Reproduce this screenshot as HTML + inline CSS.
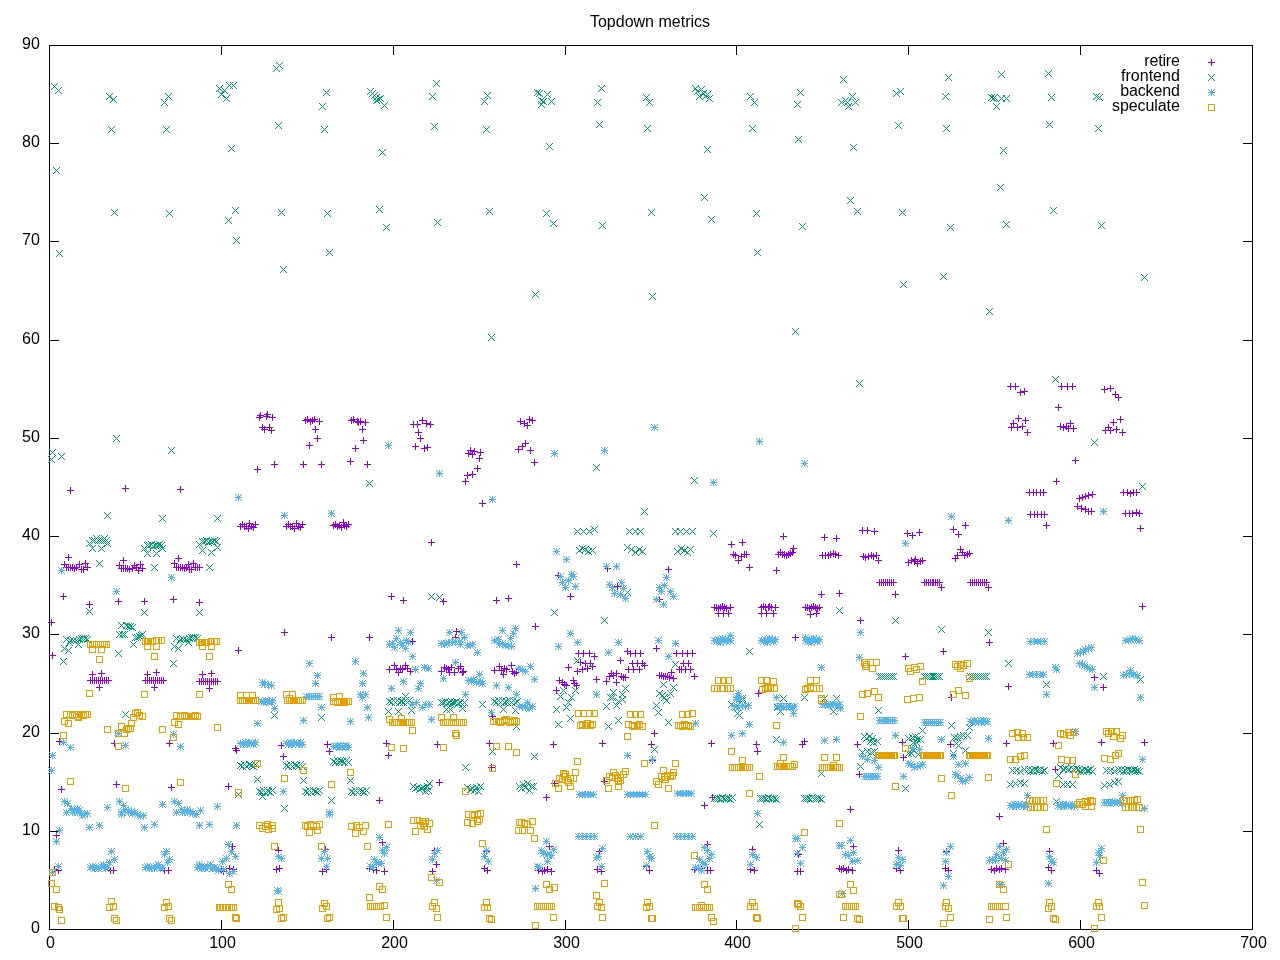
<!DOCTYPE html>
<html lang="en"><head><meta charset="utf-8"><title>Topdown metrics</title>
<style>html,body{margin:0;padding:0;background:#fff}body{width:1280px;height:960px;overflow:hidden}svg{display:block}text{font-family:"Liberation Sans",sans-serif;font-size:16px;fill:#000}</style></head><body>
<svg width="1280" height="960" viewBox="0 0 1280 960">
<rect width="1280" height="960" fill="#fff"/>
<path d="M49.5 929.5v-9.5M49.5 45.5v9.5M221.5 929.5v-9.5M221.5 45.5v9.5M393.5 929.5v-9.5M393.5 45.5v9.5M565.5 929.5v-9.5M565.5 45.5v9.5M736.5 929.5v-9.5M736.5 45.5v9.5M908.5 929.5v-9.5M908.5 45.5v9.5M1080.5 929.5v-9.5M1080.5 45.5v9.5M1252.5 929.5v-9.5M1252.5 45.5v9.5M49.5 929.5h9.5M1252.5 929.5h-9.5M49.5 831.5h9.5M1252.5 831.5h-9.5M49.5 733.5h9.5M1252.5 733.5h-9.5M49.5 634.5h9.5M1252.5 634.5h-9.5M49.5 536.5h9.5M1252.5 536.5h-9.5M49.5 438.5h9.5M1252.5 438.5h-9.5M49.5 340.5h9.5M1252.5 340.5h-9.5M49.5 241.5h9.5M1252.5 241.5h-9.5M49.5 143.5h9.5M1252.5 143.5h-9.5M49.5 45.5h9.5M1252.5 45.5h-9.5" stroke="#000" stroke-width="1" fill="none"/>
<rect x="49.5" y="45.5" width="1203.0" height="884.0" fill="none" stroke="#000" stroke-width="1"/>
<g text-anchor="end">
<text x="39.8" y="933.0">0</text>
<text x="39.8" y="835.0">10</text>
<text x="39.8" y="737.0">20</text>
<text x="39.8" y="638.0">30</text>
<text x="39.8" y="540.0">40</text>
<text x="39.8" y="442.0">50</text>
<text x="39.8" y="344.0">60</text>
<text x="39.8" y="245.0">70</text>
<text x="39.8" y="147.0">80</text>
<text x="39.8" y="49.0">90</text>
</g><g text-anchor="middle">
<text x="50.5" y="947.8">0</text>
<text x="222.5" y="947.8">100</text>
<text x="394.5" y="947.8">200</text>
<text x="566.5" y="947.8">300</text>
<text x="737.5" y="947.8">400</text>
<text x="909.5" y="947.8">500</text>
<text x="1081.5" y="947.8">600</text>
<text x="1253.5" y="947.8">700</text>
<text x="650" y="27">Topdown metrics</text>
</g>
<g text-anchor="end">
<text x="1179.8" y="66.0" textLength="35.5" lengthAdjust="spacing">retire</text>
<text x="1179.8" y="81.0" textLength="58.7" lengthAdjust="spacing">frontend</text>
<text x="1179.8" y="96.0" textLength="59.55" lengthAdjust="spacing">backend</text>
<text x="1179.8" y="111.0" textLength="67.7" lengthAdjust="spacing">speculate</text>
</g>
<path d="M1208 62.5h7M1211.5 59v7M357 421.5h7M360.5 418v7M362 422.5h7M365.5 419v7M359 429.5h7M362.5 426v7M360 440.5h7M363.5 437v7M364 464.5h7M367.5 461v7M410 424.5h7M413.5 421v7M414 424.5h7M417.5 421v7M419 420.5h7M422.5 417v7M423 423.5h7M426.5 420v7M427 424.5h7M430.5 421v7M415 432.5h7M418.5 429v7M417 438.5h7M420.5 435v7M412 446.5h7M415.5 443v7M421 448.5h7M424.5 445v7M424 447.5h7M427.5 444v7M465 453.5h7M468.5 450v7M467 450.5h7M470.5 447v7M471 451.5h7M474.5 448v7M469 454.5h7M472.5 451v7M477 452.5h7M480.5 449v7M476 458.5h7M479.5 455v7M474 468.5h7M477.5 465v7M469 474.5h7M472.5 471v7M464 475.5h7M467.5 472v7M462 481.5h7M465.5 478v7M517 421.5h7M520.5 418v7M521 423.5h7M524.5 420v7M526 419.5h7M529.5 416v7M529 420.5h7M532.5 417v7M524 425.5h7M527.5 422v7M522 443.5h7M525.5 440v7M519 446.5h7M522.5 443v7M515 449.5h7M518.5 446v7M527 450.5h7M530.5 447v7M531 462.5h7M534.5 459v7M1007 386.5h7M1010.5 383v7M1012 386.5h7M1015.5 383v7M1017 392.5h7M1020.5 389v7M1021 391.5h7M1024.5 388v7M1015 418.5h7M1018.5 415v7M1022 420.5h7M1025.5 417v7M1010 423.5h7M1013.5 420v7M1008 427.5h7M1011.5 424v7M1014 427.5h7M1017.5 424v7M1019 426.5h7M1022.5 423v7M1024 432.5h7M1027.5 429v7M1058 386.5h7M1061.5 383v7M1064 386.5h7M1067.5 383v7M1069 386.5h7M1072.5 383v7M1055 407.5h7M1058.5 404v7M1057 426.5h7M1060.5 423v7M1060 427.5h7M1063.5 424v7M1063 426.5h7M1066.5 423v7M1067 423.5h7M1070.5 420v7M1065 428.5h7M1068.5 425v7M1070 428.5h7M1073.5 425v7M1072 460.5h7M1075.5 457v7M1053 481.5h7M1056.5 478v7M1101 389.5h7M1104.5 386v7M1107 388.5h7M1110.5 385v7M1112 394.5h7M1115.5 391v7M1115 397.5h7M1118.5 394v7M1117 419.5h7M1120.5 416v7M1110 422.5h7M1113.5 419v7M1105 427.5h7M1108.5 424v7M1102 430.5h7M1105.5 427v7M1107 430.5h7M1110.5 427v7M1113 429.5h7M1116.5 426v7M1119 432.5h7M1122.5 429v7M256 417.5h7M259.5 414v7M257 415.5h7M260.5 412v7M263 416.5h7M266.5 413v7M264 414.5h7M267.5 411v7M269 417.5h7M272.5 414v7M259 427.5h7M262.5 424v7M261 429.5h7M264.5 426v7M266 427.5h7M269.5 424v7M268 430.5h7M271.5 427v7M254 469.5h7M257.5 466v7M271 464.5h7M274.5 461v7M302 420.5h7M305.5 417v7M304 419.5h7M307.5 416v7M307 421.5h7M310.5 418v7M309 420.5h7M312.5 417v7M311 419.5h7M314.5 416v7M316 421.5h7M319.5 418v7M312 429.5h7M315.5 426v7M314 438.5h7M317.5 435v7M306 445.5h7M309.5 442v7M300 464.5h7M303.5 461v7M318 464.5h7M321.5 461v7M348 420.5h7M351.5 417v7M350 419.5h7M353.5 416v7M354 421.5h7M357.5 418v7M355 422.5h7M358.5 419v7M352 448.5h7M355.5 445v7M347 461.5h7M350.5 458v7M67 490.5h7M70.5 487v7M122 488.5h7M125.5 485v7M177 489.5h7M180.5 486v7M63 567.5h7M66.5 564v7M65 567.5h7M68.5 564v7M67 567.5h7M70.5 564v7M69 567.5h7M72.5 564v7M71 568.5h7M74.5 565v7M73 567.5h7M76.5 564v7M76 564.5h7M79.5 561v7M78 569.5h7M81.5 566v7M80 569.5h7M83.5 566v7M82 563.5h7M85.5 560v7M84 567.5h7M87.5 564v7M65 557.5h7M68.5 554v7M61 564.5h7M64.5 561v7M118 568.5h7M121.5 565v7M120 568.5h7M123.5 565v7M122 568.5h7M125.5 565v7M124 568.5h7M127.5 565v7M126 569.5h7M129.5 566v7M129 568.5h7M132.5 565v7M131 565.5h7M134.5 562v7M133 567.5h7M136.5 564v7M135 570.5h7M138.5 567v7M137 564.5h7M140.5 561v7M139 568.5h7M142.5 565v7M120 560.5h7M123.5 557v7M116 565.5h7M119.5 562v7M173 567.5h7M176.5 564v7M175 567.5h7M178.5 564v7M177 567.5h7M180.5 564v7M179 567.5h7M182.5 564v7M181 568.5h7M184.5 565v7M183 567.5h7M186.5 564v7M185 564.5h7M188.5 561v7M186 569.5h7M189.5 566v7M188 569.5h7M191.5 566v7M190 563.5h7M193.5 560v7M192 567.5h7M195.5 564v7M194 567.5h7M197.5 564v7M196 567.5h7M199.5 564v7M175 558.5h7M178.5 555v7M171 563.5h7M174.5 560v7M237 526.5h7M240.5 523v7M239 524.5h7M242.5 521v7M241 526.5h7M244.5 523v7M243 526.5h7M246.5 523v7M245 528.5h7M248.5 525v7M246 523.5h7M249.5 520v7M248 526.5h7M251.5 523v7M250 527.5h7M253.5 524v7M252 524.5h7M255.5 521v7M283 526.5h7M286.5 523v7M285 524.5h7M288.5 521v7M287 526.5h7M290.5 523v7M289 526.5h7M292.5 523v7M291 528.5h7M294.5 525v7M293 523.5h7M296.5 520v7M295 526.5h7M298.5 523v7M297 527.5h7M300.5 524v7M299 524.5h7M302.5 521v7M330 525.5h7M333.5 522v7M332 524.5h7M335.5 521v7M334 526.5h7M337.5 523v7M336 525.5h7M339.5 522v7M338 527.5h7M341.5 524v7M340 522.5h7M343.5 519v7M341 525.5h7M344.5 522v7M343 526.5h7M346.5 523v7M345 524.5h7M348.5 521v7M428 542.5h7M431.5 539v7M479 503.5h7M482.5 500v7M513 564.5h7M516.5 561v7M665 569.5h7M668.5 566v7M728 544.5h7M731.5 541v7M739 542.5h7M742.5 539v7M746 567.5h7M749.5 564v7M773 570.5h7M776.5 567v7M780 536.5h7M783.5 533v7M821 537.5h7M824.5 534v7M833 538.5h7M836.5 535v7M604 568.5h7M607.5 565v7M555 575.5h7M558.5 572v7M730 554.5h7M733.5 551v7M732 555.5h7M735.5 552v7M735 560.5h7M738.5 557v7M738 556.5h7M741.5 553v7M741 554.5h7M744.5 551v7M743 554.5h7M746.5 551v7M775 554.5h7M778.5 551v7M777 552.5h7M780.5 549v7M779 554.5h7M782.5 551v7M781 554.5h7M784.5 551v7M783 555.5h7M786.5 552v7M785 554.5h7M788.5 551v7M787 553.5h7M790.5 550v7M789 552.5h7M792.5 549v7M790 548.5h7M793.5 545v7M819 555.5h7M822.5 552v7M822 555.5h7M825.5 552v7M825 555.5h7M828.5 552v7M827 554.5h7M830.5 551v7M830 553.5h7M833.5 550v7M832 554.5h7M835.5 551v7M835 555.5h7M838.5 552v7M1043 525.5h7M1046.5 522v7M1137 528.5h7M1140.5 525v7M859 530.5h7M862.5 527v7M864 530.5h7M867.5 527v7M871 531.5h7M874.5 528v7M860 556.5h7M863.5 553v7M862 557.5h7M865.5 554v7M865 556.5h7M868.5 553v7M868 555.5h7M871.5 552v7M870 556.5h7M873.5 553v7M873 555.5h7M876.5 552v7M875 560.5h7M878.5 557v7M904 533.5h7M907.5 530v7M909 535.5h7M912.5 532v7M916 532.5h7M919.5 529v7M905 562.5h7M908.5 559v7M908 560.5h7M911.5 557v7M911 561.5h7M914.5 558v7M912 559.5h7M915.5 556v7M914 563.5h7M917.5 560v7M917 561.5h7M920.5 558v7M919 560.5h7M922.5 557v7M950 529.5h7M953.5 526v7M955 534.5h7M958.5 531v7M962 525.5h7M965.5 522v7M952 558.5h7M955.5 555v7M954 555.5h7M957.5 552v7M957 549.5h7M960.5 546v7M959 552.5h7M962.5 549v7M961 555.5h7M964.5 552v7M964 554.5h7M967.5 551v7M966 553.5h7M969.5 550v7M1026 492.5h7M1029.5 489v7M1030 492.5h7M1033.5 489v7M1033 492.5h7M1036.5 489v7M1037 492.5h7M1040.5 489v7M1040 492.5h7M1043.5 489v7M1027 514.5h7M1030.5 511v7M1031 514.5h7M1034.5 511v7M1034 514.5h7M1037.5 511v7M1038 514.5h7M1041.5 511v7M1041 514.5h7M1044.5 511v7M1076 498.5h7M1079.5 495v7M1079 497.5h7M1082.5 494v7M1082 496.5h7M1085.5 493v7M1085 495.5h7M1088.5 492v7M1089 494.5h7M1092.5 491v7M1074 506.5h7M1077.5 503v7M1078 508.5h7M1081.5 505v7M1082 509.5h7M1085.5 506v7M1085 511.5h7M1088.5 508v7M1088 511.5h7M1091.5 508v7M1120 492.5h7M1123.5 489v7M1124 492.5h7M1127.5 489v7M1127 493.5h7M1130.5 490v7M1130 492.5h7M1133.5 489v7M1133 492.5h7M1136.5 489v7M1122 513.5h7M1125.5 510v7M1126 513.5h7M1129.5 510v7M1129 513.5h7M1132.5 510v7M1133 512.5h7M1136.5 509v7M1136 513.5h7M1139.5 510v7M60 596.5h7M63.5 593v7M86 604.5h7M89.5 601v7M115 601.5h7M118.5 598v7M141 601.5h7M144.5 598v7M170 599.5h7M173.5 596v7M196 602.5h7M199.5 599v7M48 622.5h7M51.5 619v7M49 655.5h7M52.5 652v7M87 680.5h7M90.5 677v7M89 680.5h7M92.5 677v7M91 680.5h7M94.5 677v7M93 680.5h7M96.5 677v7M95 680.5h7M98.5 677v7M97 680.5h7M100.5 677v7M99 680.5h7M102.5 677v7M101 680.5h7M104.5 677v7M103 680.5h7M106.5 677v7M105 680.5h7M108.5 677v7M89 674.5h7M92.5 671v7M98 673.5h7M101.5 670v7M96 687.5h7M99.5 684v7M142 680.5h7M145.5 677v7M144 680.5h7M147.5 677v7M146 680.5h7M149.5 677v7M148 680.5h7M151.5 677v7M150 680.5h7M153.5 677v7M152 680.5h7M155.5 677v7M154 680.5h7M157.5 677v7M156 680.5h7M159.5 677v7M158 680.5h7M161.5 677v7M160 680.5h7M163.5 677v7M144 674.5h7M147.5 671v7M153 672.5h7M156.5 669v7M151 687.5h7M154.5 684v7M235 650.5h7M238.5 647v7M281 632.5h7M284.5 629v7M328 637.5h7M331.5 634v7M196 681.5h7M199.5 678v7M198 681.5h7M201.5 678v7M200 681.5h7M203.5 678v7M202 681.5h7M205.5 678v7M204 681.5h7M207.5 678v7M206 681.5h7M209.5 678v7M208 681.5h7M211.5 678v7M210 681.5h7M213.5 678v7M212 681.5h7M215.5 678v7M214 681.5h7M217.5 678v7M199 674.5h7M202.5 671v7M208 673.5h7M211.5 670v7M206 688.5h7M209.5 685v7M388 596.5h7M391.5 593v7M400 600.5h7M403.5 597v7M440 601.5h7M443.5 598v7M493 600.5h7M496.5 597v7M505 598.5h7M508.5 595v7M366 637.5h7M369.5 634v7M409 641.5h7M412.5 638v7M453 631.5h7M456.5 628v7M452 637.5h7M455.5 634v7M386 669.5h7M389.5 666v7M391 665.5h7M394.5 662v7M393 669.5h7M396.5 666v7M395 672.5h7M398.5 669v7M397 668.5h7M400.5 665v7M399 669.5h7M402.5 666v7M402 665.5h7M405.5 662v7M404 668.5h7M407.5 665v7M407 671.5h7M410.5 668v7M438 671.5h7M441.5 668v7M441 667.5h7M444.5 664v7M443 668.5h7M446.5 665v7M445 669.5h7M448.5 666v7M446 672.5h7M449.5 669v7M448 667.5h7M451.5 664v7M451 672.5h7M454.5 669v7M455 668.5h7M458.5 665v7M457 666.5h7M460.5 663v7M459 672.5h7M462.5 669v7M460 671.5h7M463.5 668v7M491 670.5h7M494.5 667v7M496 666.5h7M499.5 663v7M498 670.5h7M501.5 667v7M500 674.5h7M503.5 671v7M501 668.5h7M504.5 665v7M503 669.5h7M506.5 666v7M508 665.5h7M511.5 662v7M509 671.5h7M512.5 668v7M511 673.5h7M514.5 670v7M513 672.5h7M516.5 669v7M567 596.5h7M570.5 593v7M532 626.5h7M535.5 623v7M614 586.5h7M617.5 583v7M656 599.5h7M659.5 596v7M653 648.5h7M656.5 645v7M617 660.5h7M620.5 657v7M565 667.5h7M568.5 664v7M593 679.5h7M596.5 676v7M553 690.5h7M556.5 687v7M575 653.5h7M578.5 650v7M580 653.5h7M583.5 650v7M586 653.5h7M589.5 650v7M591 656.5h7M594.5 653v7M577 662.5h7M580.5 659v7M582 663.5h7M585.5 660v7M587 663.5h7M590.5 660v7M589 666.5h7M592.5 663v7M584 668.5h7M587.5 665v7M579 669.5h7M582.5 666v7M574 671.5h7M577.5 668v7M556 680.5h7M559.5 677v7M559 682.5h7M562.5 679v7M561 684.5h7M564.5 681v7M563 685.5h7M566.5 682v7M570 680.5h7M573.5 677v7M571 683.5h7M574.5 680v7M573 685.5h7M576.5 682v7M624 651.5h7M627.5 648v7M627 653.5h7M630.5 650v7M632 653.5h7M635.5 650v7M637 653.5h7M640.5 650v7M629 663.5h7M632.5 660v7M634 663.5h7M637.5 660v7M639 663.5h7M642.5 660v7M641 665.5h7M644.5 662v7M625 669.5h7M628.5 666v7M630 669.5h7M633.5 666v7M636 669.5h7M639.5 666v7M606 676.5h7M609.5 673v7M608 673.5h7M611.5 670v7M610 675.5h7M613.5 672v7M613 673.5h7M616.5 670v7M618 676.5h7M621.5 673v7M620 677.5h7M623.5 674v7M622 677.5h7M625.5 674v7M603 681.5h7M606.5 678v7M613 682.5h7M616.5 679v7M673 653.5h7M676.5 650v7M656 675.5h7M659.5 672v7M658 675.5h7M661.5 672v7M660 676.5h7M663.5 673v7M662 676.5h7M665.5 673v7M664 676.5h7M667.5 673v7M668 672.5h7M671.5 669v7M670 678.5h7M673.5 675v7M666 677.5h7M669.5 674v7M676 669.5h7M679.5 666v7M679 653.5h7M682.5 650v7M684 653.5h7M687.5 650v7M689 653.5h7M692.5 650v7M680 663.5h7M683.5 660v7M685 663.5h7M688.5 660v7M678 669.5h7M681.5 666v7M682 669.5h7M685.5 666v7M687 669.5h7M690.5 666v7M691 676.5h7M694.5 673v7M818 594.5h7M821.5 591v7M836 593.5h7M839.5 590v7M792 637.5h7M795.5 634v7M755 693.5h7M758.5 690v7M711 607.5h7M714.5 604v7M713 607.5h7M716.5 604v7M715 608.5h7M718.5 605v7M717 607.5h7M720.5 604v7M719 606.5h7M722.5 603v7M721 607.5h7M724.5 604v7M723 608.5h7M726.5 605v7M727 607.5h7M730.5 604v7M715 613.5h7M718.5 610v7M720 613.5h7M723.5 610v7M725 613.5h7M728.5 610v7M758 607.5h7M761.5 604v7M760 606.5h7M763.5 603v7M762 607.5h7M765.5 604v7M765 607.5h7M768.5 604v7M766 606.5h7M769.5 603v7M768 607.5h7M771.5 604v7M772 607.5h7M775.5 604v7M758 613.5h7M761.5 610v7M763 613.5h7M766.5 610v7M770 613.5h7M773.5 610v7M802 607.5h7M805.5 604v7M804 607.5h7M807.5 604v7M806 608.5h7M809.5 605v7M808 607.5h7M811.5 604v7M810 606.5h7M813.5 603v7M812 607.5h7M815.5 604v7M814 608.5h7M817.5 605v7M816 607.5h7M819.5 604v7M807 614.5h7M810.5 611v7M813 613.5h7M816.5 610v7M892 594.5h7M895.5 591v7M938 587.5h7M941.5 584v7M985 587.5h7M988.5 584v7M857 620.5h7M860.5 617v7M986 642.5h7M989.5 639v7M940 651.5h7M943.5 648v7M902 656.5h7M905.5 653v7M948 697.5h7M951.5 694v7M876 582.5h7M879.5 579v7M878 582.5h7M881.5 579v7M880 582.5h7M883.5 579v7M882 582.5h7M885.5 579v7M884 582.5h7M887.5 579v7M886 582.5h7M889.5 579v7M888 582.5h7M891.5 579v7M890 582.5h7M893.5 579v7M921 582.5h7M924.5 579v7M923 582.5h7M926.5 579v7M925 582.5h7M928.5 579v7M927 582.5h7M930.5 579v7M929 582.5h7M932.5 579v7M930 582.5h7M933.5 579v7M932 582.5h7M935.5 579v7M934 582.5h7M937.5 579v7M936 582.5h7M939.5 579v7M967 582.5h7M970.5 579v7M969 582.5h7M972.5 579v7M971 582.5h7M974.5 579v7M973 582.5h7M976.5 579v7M975 582.5h7M978.5 579v7M977 582.5h7M980.5 579v7M979 582.5h7M982.5 579v7M981 582.5h7M984.5 579v7M983 582.5h7M986.5 579v7M1139 606.5h7M1142.5 603v7M1005 686.5h7M1008.5 683v7M1091 677.5h7M1094.5 674v7M1100 687.5h7M1103.5 684v7M56 741.5h7M59.5 738v7M111 743.5h7M114.5 740v7M166 743.5h7M169.5 740v7M58 789.5h7M61.5 786v7M113 784.5h7M116.5 781v7M168 787.5h7M171.5 784v7M232 748.5h7M235.5 745v7M233 750.5h7M236.5 747v7M278 745.5h7M281.5 742v7M280 756.5h7M283.5 753v7M324 744.5h7M327.5 741v7M326 751.5h7M329.5 748v7M225 786.5h7M228.5 783v7M383 743.5h7M386.5 740v7M385 755.5h7M388.5 752v7M434 744.5h7M437.5 741v7M486 743.5h7M489.5 740v7M489 716.5h7M492.5 713v7M488 767.5h7M491.5 764v7M436 782.5h7M439.5 779v7M376 800.5h7M379.5 797v7M550 744.5h7M553.5 741v7M599 743.5h7M602.5 740v7M651 733.5h7M654.5 730v7M648 744.5h7M651.5 741v7M649 760.5h7M652.5 757v7M551 783.5h7M554.5 780v7M601 781.5h7M604.5 778v7M543 797.5h7M546.5 794v7M708 743.5h7M711.5 740v7M753 744.5h7M756.5 741v7M754 751.5h7M757.5 748v7M801 741.5h7M804.5 738v7M799 744.5h7M802.5 741v7M709 797.5h7M712.5 794v7M701 805.5h7M704.5 802v7M854 744.5h7M857.5 741v7M899 742.5h7M902.5 739v7M947 744.5h7M950.5 741v7M900 757.5h7M903.5 754v7M856 774.5h7M859.5 771v7M847 809.5h7M850.5 806v7M1003 743.5h7M1006.5 740v7M1050 743.5h7M1053.5 740v7M1098 742.5h7M1101.5 739v7M1141 742.5h7M1144.5 739v7M1052 769.5h7M1055.5 766v7M53 835.5h7M56.5 832v7M51 869.5h7M54.5 866v7M55 870.5h7M58.5 867v7M107 870.5h7M110.5 867v7M110 870.5h7M113.5 867v7M161 870.5h7M164.5 867v7M165 870.5h7M168.5 867v7M229 846.5h7M232.5 843v7M218 869.5h7M221.5 866v7M220 871.5h7M223.5 868v7M226 868.5h7M229.5 865v7M230 869.5h7M233.5 866v7M275 850.5h7M278.5 847v7M273 869.5h7M276.5 866v7M276 868.5h7M279.5 865v7M322 849.5h7M325.5 846v7M319 871.5h7M322.5 868v7M323 869.5h7M326.5 866v7M379 842.5h7M382.5 839v7M366 868.5h7M369.5 865v7M370 869.5h7M373.5 866v7M373 870.5h7M376.5 867v7M381 871.5h7M384.5 868v7M431 850.5h7M434.5 847v7M433 864.5h7M436.5 861v7M429 871.5h7M432.5 868v7M483 851.5h7M486.5 848v7M481 868.5h7M484.5 865v7M484 870.5h7M487.5 867v7M546 846.5h7M549.5 843v7M535 870.5h7M538.5 867v7M539 871.5h7M542.5 868v7M541 870.5h7M544.5 867v7M544 869.5h7M547.5 866v7M548 871.5h7M551.5 868v7M596 851.5h7M599.5 848v7M594 869.5h7M597.5 866v7M598 871.5h7M601.5 868v7M646 870.5h7M649.5 867v7M643 866.5h7M646.5 863v7M704 844.5h7M707.5 841v7M691 869.5h7M694.5 866v7M704 870.5h7M707.5 867v7M707 870.5h7M710.5 867v7M698 868.5h7M701.5 865v7M749 849.5h7M752.5 846v7M747 869.5h7M750.5 866v7M751 870.5h7M754.5 867v7M795 854.5h7M798.5 851v7M794 871.5h7M797.5 868v7M797 871.5h7M800.5 868v7M836 868.5h7M839.5 865v7M996 816.5h7M999.5 813v7M850 846.5h7M853.5 843v7M838 869.5h7M841.5 866v7M840 868.5h7M843.5 865v7M843 870.5h7M846.5 867v7M845 869.5h7M848.5 866v7M849 870.5h7M852.5 867v7M895 850.5h7M898.5 847v7M893 868.5h7M896.5 865v7M897 870.5h7M900.5 867v7M943 851.5h7M946.5 848v7M942 868.5h7M945.5 865v7M945 870.5h7M948.5 867v7M988 869.5h7M991.5 866v7M991 870.5h7M994.5 867v7M993 868.5h7M996.5 865v7M996 869.5h7M999.5 866v7M1000 843.5h7M1003.5 840v7M998 868.5h7M1001.5 865v7M1002 869.5h7M1005.5 866v7M1046 851.5h7M1049.5 848v7M1045 867.5h7M1048.5 864v7M1048 870.5h7M1051.5 867v7M1093 870.5h7M1096.5 867v7M1096 873.5h7M1099.5 870v7" stroke="#9400d3" stroke-width="1" fill="none" shape-rendering="crispEdges"/>
<path d="M1208 74l7 7M1208 81l7 -7M51 83l7 7M51 90l7 -7M55 87l7 7M55 94l7 -7M106 93l7 7M106 100l7 -7M110 96l7 7M110 103l7 -7M108 126l7 7M108 133l7 -7M165 93l7 7M165 100l7 -7M161 99l7 7M161 106l7 -7M163 126l7 7M163 133l7 -7M216 85l7 7M216 92l7 -7M218 91l7 7M218 98l7 -7M221 87l7 7M221 94l7 -7M223 95l7 7M223 102l7 -7M226 82l7 7M226 89l7 -7M230 82l7 7M230 89l7 -7M228 145l7 7M228 152l7 -7M273 65l7 7M273 72l7 -7M276 62l7 7M276 69l7 -7M275 122l7 7M275 129l7 -7M323 89l7 7M323 96l7 -7M319 103l7 7M319 110l7 -7M321 126l7 7M321 133l7 -7M53 167l7 7M53 174l7 -7M111 209l7 7M111 216l7 -7M166 210l7 7M166 217l7 -7M232 207l7 7M232 214l7 -7M225 217l7 7M225 224l7 -7M233 237l7 7M233 244l7 -7M278 209l7 7M278 216l7 -7M324 210l7 7M324 217l7 -7M326 249l7 7M326 256l7 -7M367 88l7 7M367 95l7 -7M369 90l7 7M369 97l7 -7M371 92l7 7M371 99l7 -7M373 94l7 7M373 101l7 -7M375 96l7 7M375 103l7 -7M377 95l7 7M377 102l7 -7M373 97l7 7M373 104l7 -7M381 102l7 7M381 109l7 -7M379 149l7 7M379 156l7 -7M376 206l7 7M376 213l7 -7M383 224l7 7M383 231l7 -7M433 80l7 7M433 87l7 -7M429 93l7 7M429 100l7 -7M431 123l7 7M431 130l7 -7M434 219l7 7M434 226l7 -7M484 92l7 7M484 99l7 -7M481 98l7 7M481 105l7 -7M483 126l7 7M483 133l7 -7M486 208l7 7M486 215l7 -7M534 89l7 7M534 96l7 -7M536 90l7 7M536 97l7 -7M544 91l7 7M544 98l7 -7M538 97l7 7M538 104l7 -7M540 98l7 7M540 105l7 -7M548 98l7 7M548 105l7 -7M538 101l7 7M538 108l7 -7M546 143l7 7M546 150l7 -7M543 210l7 7M543 217l7 -7M550 220l7 7M550 227l7 -7M598 85l7 7M598 92l7 -7M594 99l7 7M594 106l7 -7M596 121l7 7M596 128l7 -7M599 222l7 7M599 229l7 -7M643 94l7 7M643 101l7 -7M646 99l7 7M646 106l7 -7M644 125l7 7M644 132l7 -7M648 209l7 7M648 216l7 -7M692 85l7 7M692 92l7 -7M694 88l7 7M694 95l7 -7M698 86l7 7M698 93l7 -7M696 93l7 7M696 100l7 -7M700 90l7 7M700 97l7 -7M702 93l7 7M702 100l7 -7M704 91l7 7M704 98l7 -7M706 95l7 7M706 102l7 -7M704 146l7 7M704 153l7 -7M701 194l7 7M701 201l7 -7M708 216l7 7M708 223l7 -7M747 93l7 7M747 100l7 -7M751 99l7 7M751 106l7 -7M749 125l7 7M749 132l7 -7M753 210l7 7M753 217l7 -7M754 249l7 7M754 256l7 -7M797 89l7 7M797 96l7 -7M794 101l7 7M794 108l7 -7M795 136l7 7M795 143l7 -7M799 223l7 7M799 230l7 -7M840 76l7 7M840 83l7 -7M838 99l7 7M838 106l7 -7M842 97l7 7M842 104l7 -7M844 99l7 7M844 106l7 -7M849 93l7 7M849 100l7 -7M852 99l7 7M852 106l7 -7M845 103l7 7M845 110l7 -7M850 144l7 7M850 151l7 -7M847 197l7 7M847 204l7 -7M854 208l7 7M854 215l7 -7M893 90l7 7M893 97l7 -7M897 88l7 7M897 95l7 -7M895 122l7 7M895 129l7 -7M899 209l7 7M899 216l7 -7M945 74l7 7M945 81l7 -7M942 93l7 7M942 100l7 -7M943 125l7 7M943 132l7 -7M947 224l7 7M947 231l7 -7M940 273l7 7M940 280l7 -7M998 71l7 7M998 78l7 -7M988 94l7 7M988 101l7 -7M990 95l7 7M990 102l7 -7M991 94l7 7M991 101l7 -7M998 95l7 7M998 102l7 -7M1003 95l7 7M1003 102l7 -7M993 103l7 7M993 110l7 -7M1000 147l7 7M1000 154l7 -7M997 184l7 7M997 191l7 -7M1003 221l7 7M1003 228l7 -7M1045 70l7 7M1045 77l7 -7M1048 94l7 7M1048 101l7 -7M1046 121l7 7M1046 128l7 -7M1050 207l7 7M1050 214l7 -7M1093 93l7 7M1093 100l7 -7M1096 94l7 7M1096 101l7 -7M1095 125l7 7M1095 132l7 -7M1098 222l7 7M1098 229l7 -7M1141 274l7 7M1141 281l7 -7M56 250l7 7M56 257l7 -7M113 435l7 7M113 442l7 -7M168 447l7 7M168 454l7 -7M49 449l7 7M49 456l7 -7M48 456l7 7M48 463l7 -7M58 453l7 7M58 460l7 -7M280 266l7 7M280 273l7 -7M532 291l7 7M532 298l7 -7M649 293l7 7M649 300l7 -7M488 334l7 7M488 341l7 -7M593 464l7 7M593 471l7 -7M366 480l7 7M366 487l7 -7M792 328l7 7M792 335l7 -7M856 380l7 7M856 387l7 -7M900 281l7 7M900 288l7 -7M986 308l7 7M986 315l7 -7M691 477l7 7M691 484l7 -7M1052 376l7 7M1052 383l7 -7M1091 439l7 7M1091 446l7 -7M1139 483l7 7M1139 490l7 -7M104 512l7 7M104 519l7 -7M159 515l7 7M159 522l7 -7M96 560l7 7M96 567l7 -7M151 564l7 7M151 571l7 -7M89 537l7 7M89 544l7 -7M91 537l7 7M91 544l7 -7M93 535l7 7M93 542l7 -7M95 537l7 7M95 544l7 -7M97 537l7 7M97 544l7 -7M99 537l7 7M99 544l7 -7M101 535l7 7M101 542l7 -7M103 537l7 7M103 544l7 -7M86 540l7 7M86 547l7 -7M89 545l7 7M89 552l7 -7M98 545l7 7M98 552l7 -7M104 540l7 7M104 547l7 -7M144 542l7 7M144 549l7 -7M146 542l7 7M146 549l7 -7M148 541l7 7M148 548l7 -7M150 543l7 7M150 550l7 -7M152 542l7 7M152 549l7 -7M154 542l7 7M154 549l7 -7M156 541l7 7M156 548l7 -7M158 542l7 7M158 549l7 -7M141 545l7 7M141 552l7 -7M144 550l7 7M144 557l7 -7M153 550l7 7M153 557l7 -7M159 545l7 7M159 552l7 -7M214 515l7 7M214 522l7 -7M206 564l7 7M206 571l7 -7M199 538l7 7M199 545l7 -7M201 538l7 7M201 545l7 -7M203 537l7 7M203 544l7 -7M205 539l7 7M205 546l7 -7M207 538l7 7M207 545l7 -7M209 538l7 7M209 545l7 -7M211 537l7 7M211 544l7 -7M213 538l7 7M213 545l7 -7M196 541l7 7M196 548l7 -7M199 547l7 7M199 554l7 -7M208 549l7 7M208 556l7 -7M214 544l7 7M214 551l7 -7M641 508l7 7M641 515l7 -7M710 530l7 7M710 537l7 -7M591 526l7 7M591 533l7 -7M574 528l7 7M574 535l7 -7M580 528l7 7M580 535l7 -7M586 528l7 7M586 535l7 -7M626 528l7 7M626 535l7 -7M632 528l7 7M632 535l7 -7M637 528l7 7M637 535l7 -7M672 528l7 7M672 535l7 -7M677 528l7 7M677 535l7 -7M683 528l7 7M683 535l7 -7M689 528l7 7M689 535l7 -7M576 547l7 7M576 554l7 -7M579 545l7 7M579 552l7 -7M582 546l7 7M582 553l7 -7M585 548l7 7M585 555l7 -7M589 547l7 7M589 554l7 -7M624 544l7 7M624 551l7 -7M628 546l7 7M628 553l7 -7M632 549l7 7M632 556l7 -7M636 546l7 7M636 553l7 -7M639 548l7 7M639 555l7 -7M674 548l7 7M674 555l7 -7M678 545l7 7M678 552l7 -7M681 547l7 7M681 554l7 -7M684 549l7 7M684 556l7 -7M687 546l7 7M687 553l7 -7M86 608l7 7M86 615l7 -7M141 609l7 7M141 616l7 -7M196 609l7 7M196 616l7 -7M60 658l7 7M60 665l7 -7M115 650l7 7M115 657l7 -7M170 660l7 7M170 667l7 -7M63 636l7 7M63 643l7 -7M67 637l7 7M67 644l7 -7M70 637l7 7M70 644l7 -7M73 637l7 7M73 644l7 -7M76 636l7 7M76 643l7 -7M78 635l7 7M78 642l7 -7M80 635l7 7M80 642l7 -7M82 635l7 7M82 642l7 -7M84 636l7 7M84 643l7 -7M61 645l7 7M61 652l7 -7M65 647l7 7M65 654l7 -7M75 641l7 7M75 648l7 -7M66 639l7 7M66 646l7 -7M118 622l7 7M118 629l7 -7M123 622l7 7M123 629l7 -7M125 623l7 7M125 630l7 -7M127 623l7 7M127 630l7 -7M129 624l7 7M129 631l7 -7M116 631l7 7M116 638l7 -7M119 631l7 7M119 638l7 -7M121 631l7 7M121 638l7 -7M132 634l7 7M132 641l7 -7M134 634l7 7M134 641l7 -7M136 633l7 7M136 640l7 -7M138 632l7 7M138 639l7 -7M139 631l7 7M139 638l7 -7M130 641l7 7M130 648l7 -7M173 635l7 7M173 642l7 -7M177 636l7 7M177 643l7 -7M180 636l7 7M180 643l7 -7M183 636l7 7M183 643l7 -7M186 635l7 7M186 642l7 -7M188 634l7 7M188 641l7 -7M190 634l7 7M190 641l7 -7M192 634l7 7M192 641l7 -7M194 635l7 7M194 642l7 -7M171 643l7 7M171 650l7 -7M175 645l7 7M175 652l7 -7M185 639l7 7M185 646l7 -7M176 638l7 7M176 645l7 -7M428 593l7 7M428 600l7 -7M436 594l7 7M436 601l7 -7M551 609l7 7M551 616l7 -7M601 617l7 7M601 624l7 -7M624 589l7 7M624 596l7 -7M574 657l7 7M574 664l7 -7M672 661l7 7M672 668l7 -7M560 687l7 7M560 694l7 -7M572 687l7 7M572 694l7 -7M557 693l7 7M557 700l7 -7M568 694l7 7M568 701l7 -7M610 689l7 7M610 696l7 -7M622 685l7 7M622 692l7 -7M607 694l7 7M607 701l7 -7M619 691l7 7M619 698l7 -7M660 681l7 7M660 688l7 -7M670 684l7 7M670 691l7 -7M656 690l7 7M656 697l7 -7M667 690l7 7M667 697l7 -7M661 694l7 7M661 701l7 -7M746 648l7 7M746 655l7 -7M836 607l7 7M836 614l7 -7M739 695l7 7M739 702l7 -7M780 695l7 7M780 702l7 -7M801 694l7 7M801 701l7 -7M821 695l7 7M821 702l7 -7M833 695l7 7M833 702l7 -7M892 617l7 7M892 624l7 -7M938 626l7 7M938 633l7 -7M985 629l7 7M985 636l7 -7M876 673l7 7M876 680l7 -7M878 673l7 7M878 680l7 -7M880 673l7 7M880 680l7 -7M882 673l7 7M882 680l7 -7M884 673l7 7M884 680l7 -7M886 673l7 7M886 680l7 -7M888 673l7 7M888 680l7 -7M890 673l7 7M890 680l7 -7M921 673l7 7M921 680l7 -7M923 673l7 7M923 680l7 -7M925 673l7 7M925 680l7 -7M927 673l7 7M927 680l7 -7M929 673l7 7M929 680l7 -7M930 673l7 7M930 680l7 -7M932 673l7 7M932 680l7 -7M934 673l7 7M934 680l7 -7M936 673l7 7M936 680l7 -7M967 673l7 7M967 680l7 -7M969 673l7 7M969 680l7 -7M971 673l7 7M971 680l7 -7M973 673l7 7M973 680l7 -7M975 673l7 7M975 680l7 -7M977 673l7 7M977 680l7 -7M979 673l7 7M979 680l7 -7M981 673l7 7M981 680l7 -7M983 673l7 7M983 680l7 -7M1005 660l7 7M1005 667l7 -7M1043 681l7 7M1043 688l7 -7M1100 673l7 7M1100 680l7 -7M1137 676l7 7M1137 683l7 -7M122 711l7 7M122 718l7 -7M237 762l7 7M237 769l7 -7M239 763l7 7M239 770l7 -7M241 761l7 7M241 768l7 -7M243 763l7 7M243 770l7 -7M246 761l7 7M246 768l7 -7M248 762l7 7M248 769l7 -7M250 763l7 7M250 770l7 -7M252 761l7 7M252 768l7 -7M283 762l7 7M283 769l7 -7M285 763l7 7M285 770l7 -7M287 761l7 7M287 768l7 -7M289 763l7 7M289 770l7 -7M291 761l7 7M291 768l7 -7M293 762l7 7M293 769l7 -7M295 763l7 7M295 770l7 -7M297 761l7 7M297 768l7 -7M299 763l7 7M299 770l7 -7M330 758l7 7M330 765l7 -7M332 759l7 7M332 766l7 -7M334 757l7 7M334 764l7 -7M336 759l7 7M336 766l7 -7M337 757l7 7M337 764l7 -7M339 758l7 7M339 765l7 -7M341 759l7 7M341 766l7 -7M343 757l7 7M343 764l7 -7M345 759l7 7M345 766l7 -7M271 712l7 7M271 719l7 -7M318 714l7 7M318 721l7 -7M254 776l7 7M254 783l7 -7M300 777l7 7M300 784l7 -7M347 777l7 7M347 784l7 -7M235 791l7 7M235 798l7 -7M281 805l7 7M281 812l7 -7M328 797l7 7M328 804l7 -7M259 793l7 7M259 800l7 -7M256 788l7 7M256 795l7 -7M258 789l7 7M258 796l7 -7M260 787l7 7M260 794l7 -7M262 789l7 7M262 796l7 -7M264 787l7 7M264 794l7 -7M265 788l7 7M265 795l7 -7M267 789l7 7M267 796l7 -7M269 787l7 7M269 794l7 -7M302 788l7 7M302 795l7 -7M304 789l7 7M304 796l7 -7M306 787l7 7M306 794l7 -7M308 789l7 7M308 796l7 -7M310 787l7 7M310 794l7 -7M312 788l7 7M312 795l7 -7M314 789l7 7M314 796l7 -7M316 787l7 7M316 794l7 -7M348 788l7 7M348 795l7 -7M350 789l7 7M350 796l7 -7M352 787l7 7M352 794l7 -7M354 789l7 7M354 796l7 -7M356 787l7 7M356 794l7 -7M359 788l7 7M359 795l7 -7M361 789l7 7M361 796l7 -7M363 787l7 7M363 794l7 -7M386 698l7 7M386 705l7 -7M388 699l7 7M388 706l7 -7M390 697l7 7M390 704l7 -7M392 699l7 7M392 706l7 -7M394 697l7 7M394 704l7 -7M396 699l7 7M396 706l7 -7M398 698l7 7M398 705l7 -7M400 699l7 7M400 706l7 -7M402 697l7 7M402 704l7 -7M404 699l7 7M404 706l7 -7M406 697l7 7M406 704l7 -7M385 708l7 7M385 715l7 -7M395 708l7 7M395 715l7 -7M408 707l7 7M408 714l7 -7M402 693l7 7M402 700l7 -7M438 699l7 7M438 706l7 -7M440 699l7 7M440 706l7 -7M442 698l7 7M442 705l7 -7M444 700l7 7M444 707l7 -7M446 699l7 7M446 706l7 -7M448 701l7 7M448 708l7 -7M449 699l7 7M449 706l7 -7M451 699l7 7M451 706l7 -7M453 698l7 7M453 705l7 -7M455 700l7 7M455 707l7 -7M457 699l7 7M457 706l7 -7M459 701l7 7M459 708l7 -7M461 699l7 7M461 706l7 -7M443 706l7 7M443 713l7 -7M447 706l7 7M447 713l7 -7M459 705l7 7M459 712l7 -7M491 698l7 7M491 705l7 -7M493 699l7 7M493 706l7 -7M495 697l7 7M495 704l7 -7M497 699l7 7M497 706l7 -7M499 697l7 7M499 704l7 -7M501 699l7 7M501 706l7 -7M503 698l7 7M503 705l7 -7M504 699l7 7M504 706l7 -7M506 697l7 7M506 704l7 -7M508 699l7 7M508 706l7 -7M510 697l7 7M510 704l7 -7M512 699l7 7M512 706l7 -7M514 698l7 7M514 705l7 -7M479 701l7 7M479 708l7 -7M500 706l7 7M500 713l7 -7M512 707l7 7M512 714l7 -7M513 723l7 7M513 730l7 -7M365 714l7 7M365 721l7 -7M462 764l7 7M462 771l7 -7M489 748l7 7M489 755l7 -7M410 783l7 7M410 790l7 -7M412 785l7 7M412 792l7 -7M414 784l7 7M414 791l7 -7M416 786l7 7M416 793l7 -7M418 785l7 7M418 792l7 -7M420 784l7 7M420 791l7 -7M422 788l7 7M422 795l7 -7M424 783l7 7M424 790l7 -7M426 780l7 7M426 787l7 -7M425 787l7 7M425 794l7 -7M464 784l7 7M464 791l7 -7M467 786l7 7M467 793l7 -7M469 785l7 7M469 792l7 -7M471 787l7 7M471 794l7 -7M473 784l7 7M473 791l7 -7M475 788l7 7M475 795l7 -7M477 783l7 7M477 790l7 -7M553 706l7 7M553 713l7 -7M563 704l7 7M563 711l7 -7M567 715l7 7M567 722l7 -7M555 721l7 7M555 728l7 -7M565 699l7 7M565 706l7 -7M609 694l7 7M609 701l7 -7M619 696l7 7M619 703l7 -7M615 698l7 7M615 705l7 -7M603 703l7 7M603 710l7 -7M613 702l7 7M613 709l7 -7M615 717l7 7M615 724l7 -7M605 723l7 7M605 730l7 -7M659 692l7 7M659 699l7 -7M663 697l7 7M663 704l7 -7M653 702l7 7M653 709l7 -7M655 709l7 7M655 716l7 -7M665 719l7 7M665 726l7 -7M531 753l7 7M531 760l7 -7M651 746l7 7M651 753l7 -7M516 783l7 7M516 790l7 -7M518 785l7 7M518 792l7 -7M520 781l7 7M520 788l7 -7M522 784l7 7M522 791l7 -7M524 780l7 7M524 787l7 -7M526 787l7 7M526 794l7 -7M528 783l7 7M528 790l7 -7M530 783l7 7M530 790l7 -7M728 701l7 7M728 708l7 -7M732 704l7 7M732 711l7 -7M736 712l7 7M736 719l7 -7M734 710l7 7M734 717l7 -7M739 697l7 7M739 704l7 -7M777 708l7 7M777 715l7 -7M774 704l7 7M774 711l7 -7M830 708l7 7M830 715l7 -7M773 736l7 7M773 743l7 -7M818 770l7 7M818 777l7 -7M711 795l7 7M711 802l7 -7M713 795l7 7M713 802l7 -7M715 795l7 7M715 802l7 -7M717 796l7 7M717 803l7 -7M719 794l7 7M719 801l7 -7M721 795l7 7M721 802l7 -7M723 795l7 7M723 802l7 -7M725 795l7 7M725 802l7 -7M727 796l7 7M727 803l7 -7M729 794l7 7M729 801l7 -7M757 795l7 7M757 802l7 -7M759 795l7 7M759 802l7 -7M761 795l7 7M761 802l7 -7M763 796l7 7M763 803l7 -7M765 794l7 7M765 801l7 -7M767 795l7 7M767 802l7 -7M769 795l7 7M769 802l7 -7M771 795l7 7M771 802l7 -7M773 796l7 7M773 803l7 -7M801 795l7 7M801 802l7 -7M803 795l7 7M803 802l7 -7M805 795l7 7M805 802l7 -7M807 796l7 7M807 803l7 -7M809 794l7 7M809 801l7 -7M812 795l7 7M812 802l7 -7M814 795l7 7M814 802l7 -7M816 795l7 7M816 802l7 -7M818 796l7 7M818 803l7 -7M875 707l7 7M875 714l7 -7M948 722l7 7M948 729l7 -7M902 785l7 7M902 792l7 -7M857 763l7 7M857 770l7 -7M861 733l7 7M861 740l7 -7M863 735l7 7M863 742l7 -7M866 733l7 7M866 740l7 -7M869 735l7 7M869 742l7 -7M867 738l7 7M867 745l7 -7M870 739l7 7M870 746l7 -7M874 738l7 7M874 745l7 -7M859 749l7 7M859 756l7 -7M864 748l7 7M864 755l7 -7M868 749l7 7M868 756l7 -7M871 748l7 7M871 755l7 -7M919 727l7 7M919 734l7 -7M905 735l7 7M905 742l7 -7M909 734l7 7M909 741l7 -7M912 733l7 7M912 740l7 -7M914 736l7 7M914 743l7 -7M917 736l7 7M917 743l7 -7M910 739l7 7M910 746l7 -7M913 739l7 7M913 746l7 -7M905 750l7 7M905 757l7 -7M908 750l7 7M908 757l7 -7M915 751l7 7M915 758l7 -7M910 747l7 7M910 754l7 -7M966 724l7 7M966 731l7 -7M951 734l7 7M951 741l7 -7M954 734l7 7M954 741l7 -7M957 733l7 7M957 740l7 -7M960 732l7 7M960 739l7 -7M964 732l7 7M964 739l7 -7M955 742l7 7M955 749l7 -7M962 747l7 7M962 754l7 -7M950 750l7 7M950 757l7 -7M953 740l7 7M953 747l7 -7M1009 767l7 7M1009 774l7 -7M1013 767l7 7M1013 774l7 -7M1017 768l7 7M1017 775l7 -7M1021 766l7 7M1021 773l7 -7M1025 766l7 7M1025 773l7 -7M1027 768l7 7M1027 775l7 -7M1029 767l7 7M1029 774l7 -7M1030 768l7 7M1030 775l7 -7M1032 766l7 7M1032 773l7 -7M1034 767l7 7M1034 774l7 -7M1036 767l7 7M1036 774l7 -7M1037 766l7 7M1037 773l7 -7M1039 768l7 7M1039 775l7 -7M1041 767l7 7M1041 774l7 -7M1057 764l7 7M1057 771l7 -7M1060 766l7 7M1060 773l7 -7M1062 765l7 7M1062 772l7 -7M1065 766l7 7M1065 773l7 -7M1068 764l7 7M1068 771l7 -7M1070 766l7 7M1070 773l7 -7M1073 765l7 7M1073 772l7 -7M1075 766l7 7M1075 773l7 -7M1077 768l7 7M1077 775l7 -7M1079 767l7 7M1079 774l7 -7M1080 768l7 7M1080 775l7 -7M1082 766l7 7M1082 773l7 -7M1084 767l7 7M1084 774l7 -7M1085 767l7 7M1085 774l7 -7M1087 766l7 7M1087 773l7 -7M1089 768l7 7M1089 775l7 -7M1103 767l7 7M1103 774l7 -7M1107 767l7 7M1107 774l7 -7M1111 768l7 7M1111 775l7 -7M1115 766l7 7M1115 773l7 -7M1118 766l7 7M1118 773l7 -7M1120 768l7 7M1120 775l7 -7M1122 767l7 7M1122 774l7 -7M1123 768l7 7M1123 775l7 -7M1125 766l7 7M1125 773l7 -7M1127 767l7 7M1127 774l7 -7M1129 767l7 7M1129 774l7 -7M1131 766l7 7M1131 773l7 -7M1132 768l7 7M1132 775l7 -7M1134 767l7 7M1134 774l7 -7M1136 768l7 7M1136 775l7 -7M1007 781l7 7M1007 788l7 -7M1012 780l7 7M1012 787l7 -7M1017 779l7 7M1017 786l7 -7M1021 780l7 7M1021 787l7 -7M1060 781l7 7M1060 788l7 -7M1064 781l7 7M1064 788l7 -7M1069 781l7 7M1069 788l7 -7M1055 772l7 7M1055 779l7 -7M1101 782l7 7M1101 789l7 -7M1106 781l7 7M1106 788l7 -7M1111 779l7 7M1111 786l7 -7M1115 778l7 7M1115 785l7 -7M1053 798l7 7M1053 805l7 -7M756 821l7 7M756 828l7 -7" stroke="#009e73" stroke-width="1" fill="none" shape-rendering="crispEdges"/>
<path d="M1208 92.5h7M1211.5 89v7M1208 89l7 7M1208 96l7 -7M385 445.5h7M388.5 442v7M385 442l7 7M385 449l7 -7M436 473.5h7M439.5 470v7M436 470l7 7M436 477l7 -7M551 453.5h7M554.5 450v7M551 450l7 7M551 457l7 -7M601 450.5h7M604.5 447v7M601 447l7 7M601 454l7 -7M651 427.5h7M654.5 424v7M651 424l7 7M651 431l7 -7M756 441.5h7M759.5 438v7M756 438l7 7M756 445l7 -7M801 463.5h7M804.5 460v7M801 460l7 7M801 467l7 -7M710 482.5h7M713.5 479v7M710 479l7 7M710 486l7 -7M235 497.5h7M238.5 494v7M235 494l7 7M235 501l7 -7M58 570.5h7M61.5 567v7M58 567l7 7M58 574l7 -7M168 577.5h7M171.5 574v7M168 574l7 7M168 581l7 -7M281 515.5h7M284.5 512v7M281 512l7 7M281 519l7 -7M328 513.5h7M331.5 510v7M328 510l7 7M328 517l7 -7M489 499.5h7M492.5 496v7M489 496l7 7M489 503l7 -7M553 551.5h7M556.5 548v7M553 548l7 7M553 555l7 -7M563 559.5h7M566.5 556v7M563 556l7 7M563 563l7 -7M603 566.5h7M606.5 563v7M603 563l7 7M603 570l7 -7M613 566.5h7M616.5 563v7M613 563l7 7M613 570l7 -7M557 576.5h7M560.5 573v7M557 573l7 7M557 580l7 -7M568 574.5h7M571.5 571v7M568 571l7 7M568 578l7 -7M570 576.5h7M573.5 573v7M570 573l7 7M570 580l7 -7M663 577.5h7M666.5 574v7M663 574l7 7M663 581l7 -7M948 516.5h7M951.5 513v7M948 513l7 7M948 520l7 -7M1005 520.5h7M1008.5 517v7M1005 517l7 7M1005 524l7 -7M902 543.5h7M905.5 540v7M902 540l7 7M902 547l7 -7M1100 511.5h7M1103.5 508v7M1100 508l7 7M1100 515l7 -7M113 591.5h7M116.5 588v7M113 588l7 7M113 595l7 -7M306 663.5h7M309.5 660v7M306 660l7 7M306 667l7 -7M314 675.5h7M317.5 672v7M314 672l7 7M314 679l7 -7M312 683.5h7M315.5 680v7M312 680l7 7M312 687l7 -7M352 661.5h7M355.5 658v7M352 658l7 7M352 665l7 -7M259 682.5h7M262.5 679v7M259 679l7 7M259 686l7 -7M261 684.5h7M264.5 681v7M261 681l7 7M261 688l7 -7M265 684.5h7M268.5 681v7M265 681l7 7M265 688l7 -7M268 685.5h7M271.5 682v7M268 682l7 7M268 689l7 -7M395 630.5h7M398.5 627v7M395 627l7 7M395 634l7 -7M407 632.5h7M410.5 629v7M407 629l7 7M407 636l7 -7M393 638.5h7M396.5 635v7M393 635l7 7M393 642l7 -7M386 644.5h7M389.5 641v7M386 641l7 7M386 648l7 -7M389 643.5h7M392.5 640v7M389 640l7 7M389 647l7 -7M391 647.5h7M394.5 644v7M391 644l7 7M391 651l7 -7M397 642.5h7M400.5 639v7M397 639l7 7M397 646l7 -7M399 645.5h7M402.5 642v7M399 642l7 7M399 649l7 -7M402 648.5h7M405.5 645v7M402 645l7 7M402 652l7 -7M403 640.5h7M406.5 637v7M403 637l7 7M403 644l7 -7M405 642.5h7M408.5 639v7M405 639l7 7M405 646l7 -7M409 656.5h7M412.5 653v7M409 653l7 7M409 660l7 -7M446 632.5h7M449.5 629v7M446 629l7 7M446 636l7 -7M458 632.5h7M461.5 629v7M458 629l7 7M458 636l7 -7M461 637.5h7M464.5 634v7M461 634l7 7M461 641l7 -7M438 643.5h7M441.5 640v7M438 640l7 7M438 647l7 -7M441 644.5h7M444.5 641v7M441 641l7 7M441 648l7 -7M443 643.5h7M446.5 640v7M443 640l7 7M443 647l7 -7M445 642.5h7M448.5 639v7M445 639l7 7M445 646l7 -7M449 642.5h7M452.5 639v7M449 639l7 7M449 646l7 -7M452 641.5h7M455.5 638v7M452 638l7 7M452 645l7 -7M456 641.5h7M459.5 638v7M456 638l7 7M456 645l7 -7M457 644.5h7M460.5 641v7M457 641l7 7M457 648l7 -7M464 645.5h7M467.5 642v7M464 642l7 7M464 649l7 -7M467 645.5h7M470.5 642v7M467 642l7 7M467 649l7 -7M469 644.5h7M472.5 641v7M469 641l7 7M469 648l7 -7M474 652.5h7M477.5 649v7M474 649l7 7M474 656l7 -7M499 630.5h7M502.5 627v7M499 627l7 7M499 634l7 -7M512 628.5h7M515.5 625v7M512 625l7 7M512 632l7 -7M510 633.5h7M513.5 630v7M510 630l7 7M510 637l7 -7M507 638.5h7M510.5 635v7M507 635l7 7M507 642l7 -7M491 640.5h7M494.5 637v7M491 637l7 7M491 644l7 -7M495 639.5h7M498.5 636v7M495 636l7 7M495 643l7 -7M496 644.5h7M499.5 641v7M496 641l7 7M496 648l7 -7M499 643.5h7M502.5 640v7M499 640l7 7M499 647l7 -7M502 645.5h7M505.5 642v7M502 642l7 7M502 649l7 -7M505 645.5h7M508.5 642v7M505 642l7 7M505 649l7 -7M508 646.5h7M511.5 643v7M508 643l7 7M508 650l7 -7M360 673.5h7M363.5 670v7M360 670l7 7M360 677l7 -7M359 683.5h7M362.5 680v7M359 680l7 7M359 687l7 -7M362 694.5h7M365.5 691v7M362 691l7 7M362 698l7 -7M357 694.5h7M360.5 691v7M357 691l7 7M357 698l7 -7M412 669.5h7M415.5 666v7M412 666l7 7M412 673l7 -7M421 667.5h7M424.5 664v7M421 664l7 7M421 671l7 -7M425 668.5h7M428.5 665v7M425 665l7 7M425 672l7 -7M400 681.5h7M403.5 678v7M400 678l7 7M400 685l7 -7M388 688.5h7M391.5 685v7M388 685l7 7M388 692l7 -7M417 683.5h7M420.5 680v7M417 680l7 7M417 687l7 -7M415 688.5h7M418.5 685v7M415 685l7 7M415 692l7 -7M440 678.5h7M443.5 675v7M440 675l7 7M440 682l7 -7M452 662.5h7M455.5 659v7M452 659l7 7M452 666l7 -7M476 674.5h7M479.5 671v7M476 671l7 7M476 678l7 -7M465 680.5h7M468.5 677v7M465 677l7 7M465 684l7 -7M468 681.5h7M471.5 678v7M468 678l7 7M468 685l7 -7M470 679.5h7M473.5 676v7M470 676l7 7M470 683l7 -7M473 682.5h7M476.5 679v7M473 679l7 7M473 686l7 -7M477 681.5h7M480.5 678v7M477 678l7 7M477 685l7 -7M479 683.5h7M482.5 680v7M479 680l7 7M479 687l7 -7M462 694.5h7M465.5 691v7M462 691l7 7M462 698l7 -7M493 685.5h7M496.5 682v7M493 682l7 7M493 689l7 -7M505 687.5h7M508.5 684v7M505 684l7 7M505 691l7 -7M515 668.5h7M518.5 665v7M515 665l7 7M515 672l7 -7M513 694.5h7M516.5 691v7M513 691l7 7M513 698l7 -7M559 582.5h7M562.5 579v7M559 579l7 7M559 586l7 -7M565 580.5h7M568.5 577v7M565 577l7 7M565 584l7 -7M562 587.5h7M565.5 584v7M562 584l7 7M562 591l7 -7M572 586.5h7M575.5 583v7M572 583l7 7M572 590l7 -7M606 584.5h7M609.5 581v7M606 581l7 7M606 588l7 -7M618 582.5h7M621.5 579v7M618 579l7 7M618 586l7 -7M609 587.5h7M612.5 584v7M609 584l7 7M609 591l7 -7M620 588.5h7M623.5 585v7M620 585l7 7M620 592l7 -7M611 593.5h7M614.5 590v7M611 590l7 7M611 597l7 -7M617 594.5h7M620.5 591v7M617 591l7 7M617 598l7 -7M622 598.5h7M625.5 595v7M622 595l7 7M622 602l7 -7M656 587.5h7M659.5 584v7M656 584l7 7M656 591l7 -7M661 585.5h7M664.5 582v7M661 582l7 7M661 589l7 -7M658 591.5h7M661.5 588v7M658 588l7 7M658 595l7 -7M667 591.5h7M670.5 588v7M667 588l7 7M667 595l7 -7M670 596.5h7M673.5 593v7M670 593l7 7M670 600l7 -7M653 599.5h7M656.5 596v7M653 596l7 7M653 603l7 -7M660 604.5h7M663.5 601v7M660 601l7 7M660 608l7 -7M567 633.5h7M570.5 630v7M567 630l7 7M567 637l7 -7M574 642.5h7M577.5 639v7M574 639l7 7M574 646l7 -7M555 646.5h7M558.5 643v7M555 643l7 7M555 650l7 -7M615 642.5h7M618.5 639v7M615 639l7 7M615 646l7 -7M605 652.5h7M608.5 649v7M605 649l7 7M605 656l7 -7M655 640.5h7M658.5 637v7M655 637l7 7M655 644l7 -7M672 643.5h7M675.5 640v7M672 640l7 7M672 647l7 -7M665 656.5h7M668.5 653v7M665 653l7 7M665 660l7 -7M527 666.5h7M530.5 663v7M527 663l7 7M527 670l7 -7M519 669.5h7M522.5 666v7M519 666l7 7M519 673l7 -7M522 671.5h7M525.5 668v7M522 668l7 7M522 675l7 -7M531 679.5h7M534.5 676v7M531 676l7 7M531 683l7 -7M593 694.5h7M596.5 691v7M593 691l7 7M593 698l7 -7M711 640.5h7M714.5 637v7M711 637l7 7M711 644l7 -7M713 641.5h7M716.5 638v7M713 638l7 7M713 645l7 -7M715 639.5h7M718.5 636v7M715 636l7 7M715 643l7 -7M717 642.5h7M720.5 639v7M717 639l7 7M717 646l7 -7M719 638.5h7M722.5 635v7M719 635l7 7M719 642l7 -7M721 640.5h7M724.5 637v7M721 637l7 7M721 644l7 -7M723 641.5h7M726.5 638v7M723 638l7 7M723 645l7 -7M725 639.5h7M728.5 636v7M725 636l7 7M725 643l7 -7M727 640.5h7M730.5 637v7M727 637l7 7M727 644l7 -7M727 635.5h7M730.5 632v7M727 632l7 7M727 639l7 -7M758 640.5h7M761.5 637v7M758 637l7 7M758 644l7 -7M760 641.5h7M763.5 638v7M760 638l7 7M760 645l7 -7M762 639.5h7M765.5 636v7M762 636l7 7M762 643l7 -7M764 642.5h7M767.5 639v7M764 639l7 7M764 646l7 -7M766 638.5h7M769.5 635v7M766 635l7 7M766 642l7 -7M768 640.5h7M771.5 637v7M768 637l7 7M768 644l7 -7M770 641.5h7M773.5 638v7M770 638l7 7M770 645l7 -7M772 639.5h7M775.5 636v7M772 636l7 7M772 643l7 -7M802 640.5h7M805.5 637v7M802 637l7 7M802 644l7 -7M804 641.5h7M807.5 638v7M804 638l7 7M804 645l7 -7M806 639.5h7M809.5 636v7M806 636l7 7M806 643l7 -7M808 642.5h7M811.5 639v7M808 639l7 7M808 646l7 -7M810 638.5h7M813.5 635v7M810 635l7 7M810 642l7 -7M812 640.5h7M815.5 637v7M812 637l7 7M812 644l7 -7M814 641.5h7M817.5 638v7M814 638l7 7M814 645l7 -7M816 639.5h7M819.5 636v7M816 636l7 7M816 643l7 -7M802 637.5h7M805.5 634v7M802 634l7 7M802 641l7 -7M818 667.5h7M821.5 664v7M818 664l7 7M818 671l7 -7M735 693.5h7M738.5 690v7M735 690l7 7M735 697l7 -7M733 697.5h7M736.5 694v7M733 694l7 7M733 701l7 -7M773 697.5h7M776.5 694v7M773 694l7 7M773 701l7 -7M857 632.5h7M860.5 629v7M857 629l7 7M857 636l7 -7M856 657.5h7M859.5 654v7M856 654l7 7M856 661l7 -7M1043 694.5h7M1046.5 691v7M1043 691l7 7M1043 698l7 -7M1091 687.5h7M1094.5 684v7M1091 684l7 7M1091 691l7 -7M1137 697.5h7M1140.5 694v7M1137 694l7 7M1137 701l7 -7M1052 667.5h7M1055.5 664v7M1052 664l7 7M1052 671l7 -7M1053 669.5h7M1056.5 666v7M1053 666l7 7M1053 673l7 -7M1027 641.5h7M1030.5 638v7M1027 638l7 7M1027 645l7 -7M1031 641.5h7M1034.5 638v7M1031 638l7 7M1031 645l7 -7M1034 641.5h7M1037.5 638v7M1034 638l7 7M1034 645l7 -7M1037 641.5h7M1040.5 638v7M1037 638l7 7M1037 645l7 -7M1041 641.5h7M1044.5 638v7M1041 638l7 7M1041 645l7 -7M1026 674.5h7M1029.5 671v7M1026 671l7 7M1026 678l7 -7M1029 674.5h7M1032.5 671v7M1029 671l7 7M1029 678l7 -7M1033 674.5h7M1036.5 671v7M1033 671l7 7M1033 678l7 -7M1037 674.5h7M1040.5 671v7M1037 671l7 7M1037 678l7 -7M1040 674.5h7M1043.5 671v7M1040 671l7 7M1040 678l7 -7M1074 653.5h7M1077.5 650v7M1074 650l7 7M1074 657l7 -7M1077 652.5h7M1080.5 649v7M1077 649l7 7M1077 656l7 -7M1080 651.5h7M1083.5 648v7M1080 648l7 7M1080 655l7 -7M1082 649.5h7M1085.5 646v7M1082 646l7 7M1082 653l7 -7M1085 648.5h7M1088.5 645v7M1085 645l7 7M1085 652l7 -7M1088 647.5h7M1091.5 644v7M1088 644l7 7M1088 651l7 -7M1076 663.5h7M1079.5 660v7M1076 660l7 7M1076 667l7 -7M1079 664.5h7M1082.5 661v7M1079 661l7 7M1079 668l7 -7M1081 665.5h7M1084.5 662v7M1081 662l7 7M1081 669l7 -7M1084 667.5h7M1087.5 664v7M1084 664l7 7M1084 671l7 -7M1086 668.5h7M1089.5 665v7M1086 665l7 7M1086 672l7 -7M1089 669.5h7M1092.5 666v7M1089 666l7 7M1089 673l7 -7M1122 640.5h7M1125.5 637v7M1122 637l7 7M1122 644l7 -7M1125 640.5h7M1128.5 637v7M1125 637l7 7M1125 644l7 -7M1129 638.5h7M1132.5 635v7M1129 635l7 7M1129 642l7 -7M1132 639.5h7M1135.5 636v7M1132 636l7 7M1132 643l7 -7M1136 640.5h7M1139.5 637v7M1136 637l7 7M1136 644l7 -7M1127 639.5h7M1130.5 636v7M1127 636l7 7M1127 643l7 -7M1120 675.5h7M1123.5 672v7M1120 672l7 7M1120 679l7 -7M1123 674.5h7M1126.5 671v7M1123 671l7 7M1123 678l7 -7M1127 670.5h7M1130.5 667v7M1127 667l7 7M1127 674l7 -7M1130 674.5h7M1133.5 671v7M1130 671l7 7M1130 678l7 -7M1134 675.5h7M1137.5 672v7M1134 672l7 7M1134 679l7 -7M1126 673.5h7M1129.5 670v7M1126 670l7 7M1126 677l7 -7M60 742.5h7M63.5 739v7M60 739l7 7M60 746l7 -7M67 747.5h7M70.5 744v7M67 744l7 7M67 751l7 -7M49 755.5h7M52.5 752v7M49 752l7 7M49 759l7 -7M48 770.5h7M51.5 767v7M48 767l7 7M48 774l7 -7M115 733.5h7M118.5 730v7M115 730l7 7M115 737l7 -7M122 745.5h7M125.5 742v7M122 742l7 7M122 749l7 -7M170 734.5h7M173.5 731v7M170 731l7 7M170 738l7 -7M177 746.5h7M180.5 743v7M177 743l7 7M177 750l7 -7M104 807.5h7M107.5 804v7M104 804l7 7M104 811l7 -7M159 804.5h7M162.5 801v7M159 801l7 7M159 808l7 -7M61 801.5h7M64.5 798v7M61 798l7 7M61 805l7 -7M64 803.5h7M67.5 800v7M64 800l7 7M64 807l7 -7M63 812.5h7M66.5 809v7M63 809l7 7M63 816l7 -7M68 808.5h7M71.5 805v7M68 805l7 7M68 812l7 -7M71 810.5h7M74.5 807v7M71 807l7 7M71 814l7 -7M74 808.5h7M77.5 805v7M74 805l7 7M74 812l7 -7M76 810.5h7M79.5 807v7M76 807l7 7M76 814l7 -7M116 801.5h7M119.5 798v7M116 798l7 7M116 805l7 -7M120 805.5h7M123.5 802v7M120 802l7 7M120 809l7 -7M118 812.5h7M121.5 809v7M118 809l7 7M118 816l7 -7M122 809.5h7M125.5 806v7M122 806l7 7M122 813l7 -7M125 810.5h7M128.5 807v7M125 807l7 7M125 814l7 -7M128 811.5h7M131.5 808v7M128 808l7 7M128 815l7 -7M131 812.5h7M134.5 809v7M131 809l7 7M131 816l7 -7M171 801.5h7M174.5 798v7M171 798l7 7M171 805l7 -7M175 803.5h7M178.5 800v7M175 800l7 7M175 807l7 -7M173 812.5h7M176.5 809v7M173 809l7 7M173 816l7 -7M178 809.5h7M181.5 806v7M178 806l7 7M178 813l7 -7M181 810.5h7M184.5 807v7M181 807l7 7M181 814l7 -7M184 809.5h7M187.5 806v7M184 806l7 7M184 813l7 -7M187 811.5h7M190.5 808v7M187 808l7 7M187 815l7 -7M258 701.5h7M261.5 698v7M258 698l7 7M258 705l7 -7M260 702.5h7M263.5 699v7M260 699l7 7M260 706l7 -7M262 700.5h7M265.5 697v7M262 697l7 7M262 704l7 -7M264 701.5h7M267.5 698v7M264 698l7 7M264 705l7 -7M266 701.5h7M269.5 698v7M266 698l7 7M266 705l7 -7M268 702.5h7M271.5 699v7M268 699l7 7M268 706l7 -7M269 700.5h7M272.5 697v7M269 697l7 7M269 704l7 -7M271 708.5h7M274.5 705v7M271 705l7 7M271 712l7 -7M318 707.5h7M321.5 704v7M318 704l7 7M318 711l7 -7M303 696.5h7M306.5 693v7M303 693l7 7M303 700l7 -7M306 696.5h7M309.5 693v7M306 693l7 7M306 700l7 -7M308 696.5h7M311.5 693v7M308 693l7 7M308 700l7 -7M310 696.5h7M313.5 693v7M310 693l7 7M310 700l7 -7M312 696.5h7M315.5 693v7M312 693l7 7M312 700l7 -7M314 696.5h7M317.5 693v7M314 693l7 7M314 700l7 -7M316 696.5h7M319.5 693v7M316 693l7 7M316 700l7 -7M254 723.5h7M257.5 720v7M254 720l7 7M254 727l7 -7M300 720.5h7M303.5 717v7M300 717l7 7M300 724l7 -7M347 721.5h7M350.5 718v7M347 718l7 7M347 725l7 -7M280 791.5h7M283.5 788v7M280 788l7 7M280 795l7 -7M214 806.5h7M217.5 803v7M214 803l7 7M214 810l7 -7M326 812.5h7M329.5 809v7M326 809l7 7M326 816l7 -7M197 810.5h7M200.5 807v7M197 807l7 7M197 814l7 -7M237 743.5h7M240.5 740v7M237 740l7 7M237 747l7 -7M240 744.5h7M243.5 741v7M240 741l7 7M240 748l7 -7M242 742.5h7M245.5 739v7M242 739l7 7M242 746l7 -7M244 744.5h7M247.5 741v7M244 741l7 7M244 748l7 -7M246 742.5h7M249.5 739v7M246 739l7 7M246 746l7 -7M248 743.5h7M251.5 740v7M248 740l7 7M248 747l7 -7M250 744.5h7M253.5 741v7M250 741l7 7M250 748l7 -7M252 742.5h7M255.5 739v7M252 739l7 7M252 746l7 -7M283 743.5h7M286.5 740v7M283 740l7 7M283 747l7 -7M285 744.5h7M288.5 741v7M285 741l7 7M285 748l7 -7M287 742.5h7M290.5 739v7M287 739l7 7M287 746l7 -7M289 744.5h7M292.5 741v7M289 741l7 7M289 748l7 -7M291 742.5h7M294.5 739v7M291 739l7 7M291 746l7 -7M293 743.5h7M296.5 740v7M293 740l7 7M293 747l7 -7M295 744.5h7M298.5 741v7M295 741l7 7M295 748l7 -7M297 742.5h7M300.5 739v7M297 739l7 7M297 746l7 -7M299 744.5h7M302.5 741v7M299 741l7 7M299 748l7 -7M330 746.5h7M333.5 743v7M330 743l7 7M330 750l7 -7M332 746.5h7M335.5 743v7M332 743l7 7M332 750l7 -7M334 745.5h7M337.5 742v7M334 742l7 7M334 749l7 -7M336 747.5h7M339.5 744v7M336 744l7 7M336 751l7 -7M337 746.5h7M340.5 743v7M337 743l7 7M337 750l7 -7M339 746.5h7M342.5 743v7M339 743l7 7M339 750l7 -7M341 746.5h7M344.5 743v7M341 743l7 7M341 750l7 -7M343 745.5h7M346.5 742v7M343 742l7 7M343 749l7 -7M345 747.5h7M348.5 744v7M345 744l7 7M345 751l7 -7M364 707.5h7M367.5 704v7M364 704l7 7M364 711l7 -7M365 717.5h7M368.5 714v7M365 714l7 7M365 721l7 -7M359 697.5h7M362.5 694v7M359 694l7 7M359 701l7 -7M428 719.5h7M431.5 716v7M428 716l7 7M428 723l7 -7M488 712.5h7M491.5 709v7M488 709l7 7M488 716l7 -7M516 706.5h7M519.5 703v7M516 703l7 7M516 710l7 -7M409 704.5h7M412.5 701v7M409 701l7 7M409 708l7 -7M413 702.5h7M416.5 699v7M413 699l7 7M413 706l7 -7M419 707.5h7M422.5 704v7M419 704l7 7M419 711l7 -7M422 704.5h7M425.5 701v7M422 701l7 7M422 708l7 -7M426 704.5h7M429.5 701v7M426 701l7 7M426 708l7 -7M524 702.5h7M527.5 699v7M524 699l7 7M524 706l7 -7M519 706.5h7M522.5 703v7M519 703l7 7M519 710l7 -7M522 707.5h7M525.5 704v7M522 704l7 7M522 711l7 -7M526 708.5h7M529.5 705v7M526 705l7 7M526 712l7 -7M529 706.5h7M532.5 703v7M529 703l7 7M529 710l7 -7M624 755.5h7M627.5 752v7M624 752l7 7M624 759l7 -7M649 759.5h7M652.5 756v7M649 756l7 7M649 763l7 -7M576 794.5h7M579.5 791v7M576 791l7 7M576 798l7 -7M579 794.5h7M582.5 791v7M579 791l7 7M579 798l7 -7M582 794.5h7M585.5 791v7M582 791l7 7M582 798l7 -7M584 794.5h7M587.5 791v7M584 791l7 7M584 798l7 -7M587 794.5h7M590.5 791v7M587 791l7 7M587 798l7 -7M590 794.5h7M593.5 791v7M590 791l7 7M590 798l7 -7M624 794.5h7M627.5 791v7M624 791l7 7M624 798l7 -7M627 794.5h7M630.5 791v7M627 791l7 7M627 798l7 -7M630 794.5h7M633.5 791v7M630 791l7 7M630 798l7 -7M633 794.5h7M636.5 791v7M633 791l7 7M633 798l7 -7M636 794.5h7M639.5 791v7M636 791l7 7M636 798l7 -7M639 794.5h7M642.5 791v7M639 791l7 7M639 798l7 -7M642 794.5h7M645.5 791v7M642 791l7 7M642 798l7 -7M692 723.5h7M695.5 720v7M692 720l7 7M692 727l7 -7M746 724.5h7M749.5 721v7M746 721l7 7M746 728l7 -7M728 735.5h7M731.5 732v7M728 732l7 7M728 739l7 -7M739 733.5h7M742.5 730v7M739 730l7 7M739 737l7 -7M780 742.5h7M783.5 739v7M780 739l7 7M780 746l7 -7M821 740.5h7M824.5 737v7M821 737l7 7M821 744l7 -7M833 739.5h7M836.5 736v7M833 736l7 7M833 743l7 -7M754 813.5h7M757.5 810v7M754 810l7 7M754 817l7 -7M790 713.5h7M793.5 710v7M790 710l7 7M790 717l7 -7M674 793.5h7M677.5 790v7M674 790l7 7M674 797l7 -7M677 793.5h7M680.5 790v7M677 790l7 7M677 797l7 -7M680 793.5h7M683.5 790v7M680 790l7 7M680 797l7 -7M682 793.5h7M685.5 790v7M682 790l7 7M682 797l7 -7M685 793.5h7M688.5 790v7M685 790l7 7M685 797l7 -7M688 793.5h7M691.5 790v7M688 790l7 7M688 797l7 -7M733 699.5h7M736.5 696v7M733 696l7 7M733 703l7 -7M737 698.5h7M740.5 695v7M737 695l7 7M737 702l7 -7M731 706.5h7M734.5 703v7M731 703l7 7M731 710l7 -7M735 707.5h7M738.5 704v7M735 704l7 7M735 711l7 -7M739 705.5h7M742.5 702v7M739 702l7 7M739 709l7 -7M742 706.5h7M745.5 703v7M742 703l7 7M742 710l7 -7M745 705.5h7M748.5 702v7M745 702l7 7M745 709l7 -7M774 706.5h7M777.5 703v7M774 703l7 7M774 710l7 -7M776 706.5h7M779.5 703v7M776 703l7 7M776 710l7 -7M778 706.5h7M781.5 703v7M778 703l7 7M778 710l7 -7M780 707.5h7M783.5 704v7M780 704l7 7M780 711l7 -7M783 706.5h7M786.5 703v7M783 703l7 7M783 710l7 -7M785 706.5h7M788.5 703v7M785 703l7 7M785 710l7 -7M787 706.5h7M790.5 703v7M787 703l7 7M787 710l7 -7M789 707.5h7M792.5 704v7M789 704l7 7M789 711l7 -7M791 706.5h7M794.5 703v7M791 703l7 7M791 710l7 -7M819 704.5h7M822.5 701v7M819 701l7 7M819 708l7 -7M821 704.5h7M824.5 701v7M821 701l7 7M821 708l7 -7M823 704.5h7M826.5 701v7M823 701l7 7M823 708l7 -7M825 705.5h7M828.5 702v7M825 702l7 7M825 709l7 -7M827 704.5h7M830.5 701v7M827 701l7 7M827 708l7 -7M830 704.5h7M833.5 701v7M830 701l7 7M830 708l7 -7M832 704.5h7M835.5 701v7M832 701l7 7M832 708l7 -7M834 705.5h7M837.5 702v7M834 702l7 7M834 709l7 -7M836 704.5h7M839.5 701v7M836 701l7 7M836 708l7 -7M876 720.5h7M879.5 717v7M876 717l7 7M876 724l7 -7M878 720.5h7M881.5 717v7M878 717l7 7M878 724l7 -7M880 720.5h7M883.5 717v7M880 717l7 7M880 724l7 -7M882 720.5h7M885.5 717v7M882 717l7 7M882 724l7 -7M883 720.5h7M886.5 717v7M883 717l7 7M883 724l7 -7M885 720.5h7M888.5 717v7M885 717l7 7M885 724l7 -7M887 720.5h7M890.5 717v7M887 717l7 7M887 724l7 -7M889 720.5h7M892.5 717v7M889 717l7 7M889 724l7 -7M891 720.5h7M894.5 717v7M891 717l7 7M891 724l7 -7M921 722.5h7M924.5 719v7M921 719l7 7M921 726l7 -7M923 722.5h7M926.5 719v7M923 719l7 7M923 726l7 -7M925 722.5h7M928.5 719v7M925 719l7 7M925 726l7 -7M927 722.5h7M930.5 719v7M927 719l7 7M927 726l7 -7M929 722.5h7M932.5 719v7M929 719l7 7M929 726l7 -7M931 722.5h7M934.5 719v7M931 719l7 7M931 726l7 -7M933 722.5h7M936.5 719v7M933 719l7 7M933 726l7 -7M935 722.5h7M938.5 719v7M935 719l7 7M935 726l7 -7M937 722.5h7M940.5 719v7M937 719l7 7M937 726l7 -7M967 721.5h7M970.5 718v7M967 718l7 7M967 725l7 -7M969 722.5h7M972.5 719v7M969 719l7 7M969 726l7 -7M971 720.5h7M974.5 717v7M971 717l7 7M971 724l7 -7M973 721.5h7M976.5 718v7M973 718l7 7M973 725l7 -7M975 721.5h7M978.5 718v7M975 718l7 7M975 725l7 -7M978 722.5h7M981.5 719v7M978 719l7 7M978 726l7 -7M980 720.5h7M983.5 717v7M980 717l7 7M980 724l7 -7M982 721.5h7M985.5 718v7M982 718l7 7M982 725l7 -7M984 721.5h7M987.5 718v7M984 718l7 7M984 725l7 -7M837 708.5h7M840.5 705v7M837 705l7 7M837 712l7 -7M892 735.5h7M895.5 732v7M892 732l7 7M892 739l7 -7M938 739.5h7M941.5 736v7M938 736l7 7M938 743l7 -7M985 738.5h7M988.5 735v7M985 735l7 7M985 742l7 -7M900 776.5h7M903.5 773v7M900 773l7 7M900 780l7 -7M909 748.5h7M912.5 745v7M909 745l7 7M909 752l7 -7M916 749.5h7M919.5 746v7M916 746l7 7M916 753l7 -7M859 756.5h7M862.5 753v7M859 753l7 7M859 760l7 -7M864 759.5h7M867.5 756v7M864 756l7 7M864 763l7 -7M871 760.5h7M874.5 757v7M871 757l7 7M871 764l7 -7M875 767.5h7M878.5 764v7M875 764l7 7M875 771l7 -7M861 776.5h7M864.5 773v7M861 773l7 7M861 780l7 -7M863 776.5h7M866.5 773v7M863 773l7 7M863 780l7 -7M865 776.5h7M868.5 773v7M865 773l7 7M865 780l7 -7M867 776.5h7M870.5 773v7M867 773l7 7M867 780l7 -7M870 776.5h7M873.5 773v7M870 773l7 7M870 780l7 -7M872 776.5h7M875.5 773v7M872 773l7 7M872 780l7 -7M874 776.5h7M877.5 773v7M874 773l7 7M874 780l7 -7M905 763.5h7M908.5 760v7M905 760l7 7M905 767l7 -7M907 764.5h7M910.5 761v7M907 761l7 7M907 768l7 -7M911 767.5h7M914.5 764v7M911 764l7 7M911 771l7 -7M914 766.5h7M917.5 763v7M914 763l7 7M914 770l7 -7M917 765.5h7M920.5 762v7M917 762l7 7M917 769l7 -7M919 764.5h7M922.5 761v7M919 761l7 7M919 768l7 -7M950 756.5h7M953.5 753v7M950 753l7 7M950 760l7 -7M955 764.5h7M958.5 761v7M955 761l7 7M955 768l7 -7M962 763.5h7M965.5 760v7M962 760l7 7M962 767l7 -7M952 774.5h7M955.5 771v7M952 771l7 7M952 778l7 -7M954 775.5h7M957.5 772v7M954 772l7 7M954 779l7 -7M957 778.5h7M960.5 775v7M957 775l7 7M957 782l7 -7M959 781.5h7M962.5 778v7M959 778l7 7M959 785l7 -7M962 780.5h7M965.5 777v7M962 777l7 7M962 784l7 -7M966 777.5h7M969.5 774v7M966 774l7 7M966 781l7 -7M1072 731.5h7M1075.5 728v7M1072 728l7 7M1072 735l7 -7M1139 759.5h7M1142.5 756v7M1139 756l7 7M1139 763l7 -7M1024 795.5h7M1027.5 792v7M1024 792l7 7M1024 799l7 -7M1119 795.5h7M1122.5 792v7M1119 792l7 7M1119 799l7 -7M1141 808.5h7M1144.5 805v7M1141 805l7 7M1141 812l7 -7M1007 805.5h7M1010.5 802v7M1007 802l7 7M1007 809l7 -7M1009 806.5h7M1012.5 803v7M1009 803l7 7M1009 810l7 -7M1011 804.5h7M1014.5 801v7M1011 801l7 7M1011 808l7 -7M1013 806.5h7M1016.5 803v7M1013 803l7 7M1013 810l7 -7M1015 804.5h7M1018.5 801v7M1015 801l7 7M1015 808l7 -7M1018 805.5h7M1021.5 802v7M1018 802l7 7M1018 809l7 -7M1020 806.5h7M1023.5 803v7M1020 803l7 7M1020 810l7 -7M1022 804.5h7M1025.5 801v7M1022 801l7 7M1022 808l7 -7M1024 806.5h7M1027.5 803v7M1024 803l7 7M1024 810l7 -7M1055 805.5h7M1058.5 802v7M1055 802l7 7M1055 809l7 -7M1057 806.5h7M1060.5 803v7M1057 803l7 7M1057 810l7 -7M1059 804.5h7M1062.5 801v7M1059 801l7 7M1059 808l7 -7M1061 806.5h7M1064.5 803v7M1061 803l7 7M1061 810l7 -7M1063 804.5h7M1066.5 801v7M1063 801l7 7M1063 808l7 -7M1065 805.5h7M1068.5 802v7M1065 802l7 7M1065 809l7 -7M1067 806.5h7M1070.5 803v7M1067 803l7 7M1067 810l7 -7M1069 804.5h7M1072.5 801v7M1069 801l7 7M1069 808l7 -7M1071 806.5h7M1074.5 803v7M1071 803l7 7M1071 810l7 -7M1101 802.5h7M1104.5 799v7M1101 799l7 7M1101 806l7 -7M1103 802.5h7M1106.5 799v7M1103 799l7 7M1103 806l7 -7M1105 802.5h7M1108.5 799v7M1105 799l7 7M1105 806l7 -7M1107 803.5h7M1110.5 800v7M1107 800l7 7M1107 807l7 -7M1109 801.5h7M1112.5 798v7M1109 798l7 7M1109 805l7 -7M1111 802.5h7M1114.5 799v7M1111 799l7 7M1111 806l7 -7M1114 802.5h7M1117.5 799v7M1114 799l7 7M1114 806l7 -7M1116 802.5h7M1119.5 799v7M1116 799l7 7M1116 806l7 -7M1118 803.5h7M1121.5 800v7M1118 800l7 7M1118 807l7 -7M69 812.5h7M72.5 809v7M69 809l7 7M69 816l7 -7M74 812.5h7M77.5 809v7M74 809l7 7M74 816l7 -7M78 813.5h7M81.5 810v7M78 810l7 7M78 817l7 -7M81 814.5h7M84.5 811v7M81 811l7 7M81 818l7 -7M84 813.5h7M87.5 810v7M84 810l7 7M84 817l7 -7M79 815.5h7M82.5 812v7M79 812l7 7M79 819l7 -7M118 814.5h7M121.5 811v7M118 811l7 7M118 818l7 -7M125 812.5h7M128.5 809v7M125 809l7 7M125 816l7 -7M129 813.5h7M132.5 810v7M129 810l7 7M129 817l7 -7M134 814.5h7M137.5 811v7M134 811l7 7M134 818l7 -7M137 816.5h7M140.5 813v7M137 813l7 7M137 820l7 -7M140 815.5h7M143.5 812v7M140 812l7 7M140 819l7 -7M179 812.5h7M182.5 809v7M179 809l7 7M179 816l7 -7M184 812.5h7M187.5 809v7M184 809l7 7M184 816l7 -7M189 813.5h7M192.5 810v7M189 810l7 7M189 817l7 -7M193 814.5h7M196.5 811v7M193 811l7 7M193 818l7 -7M86 827.5h7M89.5 824v7M86 824l7 7M86 831l7 -7M96 825.5h7M99.5 822v7M96 822l7 7M96 829l7 -7M141 827.5h7M144.5 824v7M141 824l7 7M141 831l7 -7M151 824.5h7M154.5 821v7M151 821l7 7M151 828l7 -7M196 825.5h7M199.5 822v7M196 822l7 7M196 829l7 -7M56 830.5h7M59.5 827v7M56 827l7 7M56 834l7 -7M53 841.5h7M56.5 838v7M53 838l7 7M53 845l7 -7M55 866.5h7M58.5 863v7M55 863l7 7M55 870l7 -7M49 872.5h7M52.5 869v7M49 869l7 7M49 876l7 -7M108 851.5h7M111.5 848v7M108 848l7 7M108 855l7 -7M111 859.5h7M114.5 856v7M111 856l7 7M111 863l7 -7M106 862.5h7M109.5 859v7M106 859l7 7M106 866l7 -7M163 851.5h7M166.5 848v7M163 848l7 7M163 855l7 -7M161 854.5h7M164.5 851v7M161 851l7 7M161 858l7 -7M166 859.5h7M169.5 856v7M166 856l7 7M166 863l7 -7M164 862.5h7M167.5 859v7M164 859l7 7M164 866l7 -7M196 864.5h7M199.5 861v7M196 861l7 7M196 868l7 -7M87 867.5h7M90.5 864v7M87 864l7 7M87 871l7 -7M89 866.5h7M92.5 863v7M89 863l7 7M89 870l7 -7M91 868.5h7M94.5 865v7M91 865l7 7M91 872l7 -7M93 867.5h7M96.5 864v7M93 864l7 7M93 871l7 -7M95 868.5h7M98.5 865v7M95 865l7 7M95 872l7 -7M98 866.5h7M101.5 863v7M98 863l7 7M98 870l7 -7M100 864.5h7M103.5 861v7M100 861l7 7M100 868l7 -7M102 868.5h7M105.5 865v7M102 865l7 7M102 872l7 -7M104 867.5h7M107.5 864v7M104 864l7 7M104 871l7 -7M142 867.5h7M145.5 864v7M142 864l7 7M142 871l7 -7M144 866.5h7M147.5 863v7M144 863l7 7M144 870l7 -7M146 868.5h7M149.5 865v7M146 865l7 7M146 872l7 -7M148 867.5h7M151.5 864v7M148 864l7 7M148 871l7 -7M151 868.5h7M154.5 865v7M151 865l7 7M151 872l7 -7M153 866.5h7M156.5 863v7M153 863l7 7M153 870l7 -7M155 864.5h7M158.5 861v7M155 861l7 7M155 868l7 -7M157 868.5h7M160.5 865v7M157 865l7 7M157 872l7 -7M159 867.5h7M162.5 864v7M159 864l7 7M159 871l7 -7M206 824.5h7M209.5 821v7M206 821l7 7M206 828l7 -7M233 825.5h7M236.5 822v7M233 822l7 7M233 829l7 -7M326 814.5h7M329.5 811v7M326 811l7 7M326 818l7 -7M225 844.5h7M228.5 841v7M225 841l7 7M225 848l7 -7M228 851.5h7M231.5 848v7M228 848l7 7M228 855l7 -7M232 856.5h7M235.5 853v7M232 853l7 7M232 860l7 -7M223 858.5h7M226.5 855v7M223 855l7 7M223 862l7 -7M219 861.5h7M222.5 858v7M219 858l7 7M219 865l7 -7M274 890.5h7M277.5 887v7M274 887l7 7M274 894l7 -7M275 891.5h7M278.5 888v7M275 888l7 7M275 895l7 -7M275 856.5h7M278.5 853v7M275 853l7 7M275 860l7 -7M278 858.5h7M281.5 855v7M278 855l7 7M278 862l7 -7M321 851.5h7M324.5 848v7M321 848l7 7M321 855l7 -7M318 858.5h7M321.5 855v7M318 855l7 7M318 862l7 -7M324 858.5h7M327.5 855v7M324 855l7 7M324 862l7 -7M323 866.5h7M326.5 863v7M323 863l7 7M323 870l7 -7M194 867.5h7M197.5 864v7M194 864l7 7M194 871l7 -7M196 866.5h7M199.5 863v7M196 863l7 7M196 870l7 -7M198 868.5h7M201.5 865v7M198 865l7 7M198 872l7 -7M200 867.5h7M203.5 864v7M200 864l7 7M200 871l7 -7M202 868.5h7M205.5 865v7M202 865l7 7M202 872l7 -7M204 866.5h7M207.5 863v7M204 863l7 7M204 870l7 -7M207 864.5h7M210.5 861v7M207 861l7 7M207 868l7 -7M209 868.5h7M212.5 865v7M209 865l7 7M209 872l7 -7M211 867.5h7M214.5 864v7M211 864l7 7M211 871l7 -7M213 868.5h7M216.5 865v7M213 865l7 7M213 872l7 -7M215 870.5h7M218.5 867v7M215 867l7 7M215 874l7 -7M220 869.5h7M223.5 866v7M220 866l7 7M220 873l7 -7M226 873.5h7M229.5 870v7M226 870l7 7M226 877l7 -7M230 871.5h7M233.5 868v7M230 868l7 7M230 875l7 -7M376 837.5h7M379.5 834v7M376 834l7 7M376 841l7 -7M383 847.5h7M386.5 844v7M383 844l7 7M383 851l7 -7M379 850.5h7M382.5 847v7M379 847l7 7M379 854l7 -7M381 853.5h7M384.5 850v7M381 850l7 7M381 857l7 -7M371 859.5h7M374.5 856v7M371 856l7 7M371 863l7 -7M373 862.5h7M376.5 859v7M373 859l7 7M373 866l7 -7M375 863.5h7M378.5 860v7M375 860l7 7M375 867l7 -7M378 863.5h7M381.5 860v7M378 860l7 7M378 867l7 -7M367 866.5h7M370.5 863v7M367 863l7 7M367 870l7 -7M369 867.5h7M372.5 864v7M369 864l7 7M369 871l7 -7M434 850.5h7M437.5 847v7M434 847l7 7M434 854l7 -7M431 853.5h7M434.5 850v7M431 850l7 7M431 857l7 -7M429 859.5h7M432.5 856v7M429 856l7 7M429 863l7 -7M433 880.5h7M436.5 877v7M433 877l7 7M433 884l7 -7M483 850.5h7M486.5 847v7M483 847l7 7M483 854l7 -7M481 856.5h7M484.5 853v7M481 853l7 7M481 860l7 -7M485 861.5h7M488.5 858v7M485 858l7 7M485 865l7 -7M575 836.5h7M578.5 833v7M575 833l7 7M575 840l7 -7M579 836.5h7M582.5 833v7M579 833l7 7M579 840l7 -7M583 836.5h7M586.5 833v7M583 833l7 7M583 840l7 -7M587 836.5h7M590.5 833v7M587 833l7 7M587 840l7 -7M591 836.5h7M594.5 833v7M591 833l7 7M591 840l7 -7M627 836.5h7M630.5 833v7M627 833l7 7M627 840l7 -7M632 836.5h7M635.5 833v7M632 833l7 7M632 840l7 -7M637 836.5h7M640.5 833v7M637 833l7 7M637 840l7 -7M673 836.5h7M676.5 833v7M673 833l7 7M673 840l7 -7M543 841.5h7M546.5 838v7M543 838l7 7M543 845l7 -7M550 849.5h7M553.5 846v7M550 846l7 7M550 853l7 -7M538 850.5h7M541.5 847v7M538 847l7 7M538 854l7 -7M540 853.5h7M543.5 850v7M540 850l7 7M540 857l7 -7M544 854.5h7M547.5 851v7M544 851l7 7M544 858l7 -7M548 855.5h7M551.5 852v7M548 852l7 7M548 859l7 -7M544 861.5h7M547.5 858v7M544 858l7 7M544 865l7 -7M534 866.5h7M537.5 863v7M534 863l7 7M534 870l7 -7M536 867.5h7M539.5 864v7M536 864l7 7M536 871l7 -7M532 888.5h7M535.5 885v7M532 885l7 7M532 892l7 -7M599 848.5h7M602.5 845v7M599 845l7 7M599 852l7 -7M595 856.5h7M598.5 853v7M595 853l7 7M595 860l7 -7M593 857.5h7M596.5 854v7M593 854l7 7M593 861l7 -7M598 866.5h7M601.5 863v7M598 863l7 7M598 870l7 -7M644 851.5h7M647.5 848v7M644 848l7 7M644 855l7 -7M646 856.5h7M649.5 853v7M646 853l7 7M646 860l7 -7M648 858.5h7M651.5 855v7M648 855l7 7M648 862l7 -7M643 865.5h7M646.5 862v7M643 862l7 7M643 869l7 -7M677 836.5h7M680.5 833v7M677 833l7 7M677 840l7 -7M681 836.5h7M684.5 833v7M681 833l7 7M681 840l7 -7M685 836.5h7M688.5 833v7M685 833l7 7M685 840l7 -7M689 836.5h7M692.5 833v7M689 833l7 7M689 840l7 -7M701 847.5h7M704.5 844v7M701 844l7 7M701 851l7 -7M704 850.5h7M707.5 847v7M704 847l7 7M704 854l7 -7M708 854.5h7M711.5 851v7M708 851l7 7M708 858l7 -7M706 858.5h7M709.5 855v7M706 855l7 7M706 862l7 -7M696 859.5h7M699.5 856v7M696 856l7 7M696 863l7 -7M699 862.5h7M702.5 859v7M699 859l7 7M699 866l7 -7M702 864.5h7M705.5 861v7M702 861l7 7M702 868l7 -7M692 867.5h7M695.5 864v7M692 864l7 7M692 871l7 -7M695 868.5h7M698.5 865v7M695 865l7 7M695 872l7 -7M698 870.5h7M701.5 867v7M698 867l7 7M698 874l7 -7M749 854.5h7M752.5 851v7M749 851l7 7M749 858l7 -7M753 857.5h7M756.5 854v7M753 854l7 7M753 861l7 -7M747 864.5h7M750.5 861v7M747 861l7 7M747 868l7 -7M792 838.5h7M795.5 835v7M792 835l7 7M792 842l7 -7M794 838.5h7M797.5 835v7M794 835l7 7M794 842l7 -7M799 847.5h7M802.5 844v7M799 844l7 7M799 851l7 -7M794 853.5h7M797.5 850v7M794 850l7 7M794 857l7 -7M797 863.5h7M800.5 860v7M797 860l7 7M797 867l7 -7M836 845.5h7M839.5 842v7M836 842l7 7M836 849l7 -7M838 845.5h7M841.5 842v7M838 842l7 7M838 849l7 -7M847 840.5h7M850.5 837v7M847 837l7 7M847 844l7 -7M850 852.5h7M853.5 849v7M850 849l7 7M850 856l7 -7M842 854.5h7M845.5 851v7M842 851l7 7M842 858l7 -7M845 855.5h7M848.5 852v7M845 852l7 7M845 859l7 -7M849 861.5h7M852.5 858v7M849 858l7 7M849 865l7 -7M854 860.5h7M857.5 857v7M854 857l7 7M854 864l7 -7M839 893.5h7M842.5 890v7M839 890l7 7M839 897l7 -7M895 857.5h7M898.5 854v7M895 854l7 7M895 861l7 -7M899 859.5h7M902.5 856v7M899 856l7 7M899 863l7 -7M893 864.5h7M896.5 861v7M893 861l7 7M893 868l7 -7M897 865.5h7M900.5 862v7M897 862l7 7M897 869l7 -7M947 846.5h7M950.5 843v7M947 843l7 7M947 850l7 -7M943 852.5h7M946.5 849v7M943 849l7 7M943 856l7 -7M942 861.5h7M945.5 858v7M942 858l7 7M942 865l7 -7M945 876.5h7M948.5 873v7M945 873l7 7M945 880l7 -7M940 885.5h7M943.5 882v7M940 882l7 7M940 889l7 -7M996 846.5h7M999.5 843v7M996 843l7 7M996 850l7 -7M993 854.5h7M996.5 851v7M993 851l7 7M993 858l7 -7M986 860.5h7M989.5 857v7M986 857l7 7M986 864l7 -7M989 859.5h7M992.5 856v7M989 856l7 7M989 863l7 -7M992 860.5h7M995.5 857v7M992 857l7 7M992 864l7 -7M996 884.5h7M999.5 881v7M996 881l7 7M996 888l7 -7M1003 849.5h7M1006.5 846v7M1003 846l7 7M1003 853l7 -7M1000 852.5h7M1003.5 849v7M1000 849l7 7M1000 856l7 -7M998 858.5h7M1001.5 855v7M998 855l7 7M998 862l7 -7M1002 860.5h7M1005.5 857v7M1002 857l7 7M1002 864l7 -7M998 884.5h7M1001.5 881v7M998 881l7 7M998 888l7 -7M1046 856.5h7M1049.5 853v7M1046 853l7 7M1046 860l7 -7M1048 861.5h7M1051.5 858v7M1048 858l7 7M1048 865l7 -7M1050 862.5h7M1053.5 859v7M1050 859l7 7M1050 866l7 -7M1045 883.5h7M1048.5 880v7M1045 880l7 7M1045 887l7 -7M1098 848.5h7M1101.5 845v7M1098 845l7 7M1098 852l7 -7M1095 852.5h7M1098.5 849v7M1095 849l7 7M1095 856l7 -7M1096 855.5h7M1099.5 852v7M1096 852l7 7M1096 859l7 -7M1093 862.5h7M1096.5 859v7M1093 859l7 7M1093 866l7 -7" stroke="#56b4e9" stroke-width="1" fill="none" shape-rendering="crispEdges"/>
<path d="M1208.5 104.5h6v6h-6zM87.5 641.5h6v6h-6zM89.5 641.5h6v6h-6zM91.5 641.5h6v6h-6zM93.5 641.5h6v6h-6zM95.5 641.5h6v6h-6zM97.5 641.5h6v6h-6zM99.5 641.5h6v6h-6zM101.5 641.5h6v6h-6zM103.5 641.5h6v6h-6zM89.5 646.5h6v6h-6zM98.5 646.5h6v6h-6zM96.5 656.5h6v6h-6zM142.5 638.5h6v6h-6zM144.5 638.5h6v6h-6zM145.5 638.5h6v6h-6zM147.5 638.5h6v6h-6zM149.5 638.5h6v6h-6zM153.5 637.5h6v6h-6zM155.5 637.5h6v6h-6zM158.5 637.5h6v6h-6zM144.5 643.5h6v6h-6zM153.5 643.5h6v6h-6zM151.5 653.5h6v6h-6zM86.5 690.5h6v6h-6zM141.5 691.5h6v6h-6zM196.5 691.5h6v6h-6zM196.5 639.5h6v6h-6zM198.5 639.5h6v6h-6zM199.5 639.5h6v6h-6zM201.5 639.5h6v6h-6zM203.5 639.5h6v6h-6zM208.5 638.5h6v6h-6zM211.5 638.5h6v6h-6zM213.5 638.5h6v6h-6zM199.5 643.5h6v6h-6zM208.5 643.5h6v6h-6zM206.5 653.5h6v6h-6zM715.5 677.5h6v6h-6zM720.5 677.5h6v6h-6zM725.5 677.5h6v6h-6zM711.5 685.5h6v6h-6zM714.5 685.5h6v6h-6zM719.5 685.5h6v6h-6zM724.5 685.5h6v6h-6zM727.5 685.5h6v6h-6zM758.5 677.5h6v6h-6zM763.5 677.5h6v6h-6zM770.5 678.5h6v6h-6zM759.5 686.5h6v6h-6zM762.5 685.5h6v6h-6zM764.5 684.5h6v6h-6zM767.5 685.5h6v6h-6zM771.5 685.5h6v6h-6zM807.5 677.5h6v6h-6zM813.5 677.5h6v6h-6zM802.5 686.5h6v6h-6zM804.5 685.5h6v6h-6zM807.5 684.5h6v6h-6zM810.5 685.5h6v6h-6zM813.5 685.5h6v6h-6zM816.5 685.5h6v6h-6zM818.5 695.5h6v6h-6zM861.5 659.5h6v6h-6zM863.5 661.5h6v6h-6zM867.5 659.5h6v6h-6zM873.5 659.5h6v6h-6zM862.5 663.5h6v6h-6zM869.5 665.5h6v6h-6zM905.5 665.5h6v6h-6zM907.5 668.5h6v6h-6zM911.5 664.5h6v6h-6zM913.5 666.5h6v6h-6zM917.5 663.5h6v6h-6zM919.5 678.5h6v6h-6zM952.5 661.5h6v6h-6zM954.5 663.5h6v6h-6zM957.5 661.5h6v6h-6zM960.5 662.5h6v6h-6zM964.5 660.5h6v6h-6zM957.5 665.5h6v6h-6zM966.5 675.5h6v6h-6zM859.5 691.5h6v6h-6zM864.5 690.5h6v6h-6zM871.5 688.5h6v6h-6zM875.5 694.5h6v6h-6zM904.5 696.5h6v6h-6zM910.5 695.5h6v6h-6zM916.5 694.5h6v6h-6zM950.5 691.5h6v6h-6zM955.5 687.5h6v6h-6zM962.5 692.5h6v6h-6zM67.5 711.5h6v6h-6zM69.5 712.5h6v6h-6zM71.5 711.5h6v6h-6zM73.5 711.5h6v6h-6zM75.5 713.5h6v6h-6zM78.5 711.5h6v6h-6zM80.5 712.5h6v6h-6zM82.5 711.5h6v6h-6zM84.5 711.5h6v6h-6zM63.5 711.5h6v6h-6zM61.5 718.5h6v6h-6zM65.5 720.5h6v6h-6zM75.5 714.5h6v6h-6zM60.5 732.5h6v6h-6zM104.5 726.5h6v6h-6zM115.5 730.5h6v6h-6zM118.5 723.5h6v6h-6zM121.5 730.5h6v6h-6zM123.5 726.5h6v6h-6zM125.5 725.5h6v6h-6zM127.5 725.5h6v6h-6zM128.5 720.5h6v6h-6zM130.5 714.5h6v6h-6zM132.5 710.5h6v6h-6zM134.5 709.5h6v6h-6zM136.5 712.5h6v6h-6zM139.5 713.5h6v6h-6zM115.5 743.5h6v6h-6zM159.5 726.5h6v6h-6zM173.5 712.5h6v6h-6zM171.5 719.5h6v6h-6zM175.5 721.5h6v6h-6zM170.5 734.5h6v6h-6zM177.5 713.5h6v6h-6zM179.5 713.5h6v6h-6zM181.5 712.5h6v6h-6zM183.5 713.5h6v6h-6zM185.5 713.5h6v6h-6zM188.5 713.5h6v6h-6zM190.5 713.5h6v6h-6zM192.5 712.5h6v6h-6zM194.5 713.5h6v6h-6zM67.5 778.5h6v6h-6zM122.5 785.5h6v6h-6zM177.5 779.5h6v6h-6zM237.5 692.5h6v6h-6zM243.5 692.5h6v6h-6zM249.5 692.5h6v6h-6zM237.5 697.5h6v6h-6zM239.5 697.5h6v6h-6zM241.5 697.5h6v6h-6zM243.5 697.5h6v6h-6zM245.5 697.5h6v6h-6zM246.5 697.5h6v6h-6zM248.5 697.5h6v6h-6zM250.5 697.5h6v6h-6zM252.5 697.5h6v6h-6zM283.5 691.5h6v6h-6zM289.5 691.5h6v6h-6zM286.5 695.5h6v6h-6zM284.5 697.5h6v6h-6zM286.5 697.5h6v6h-6zM288.5 697.5h6v6h-6zM290.5 697.5h6v6h-6zM291.5 697.5h6v6h-6zM293.5 697.5h6v6h-6zM295.5 697.5h6v6h-6zM297.5 697.5h6v6h-6zM299.5 697.5h6v6h-6zM330.5 694.5h6v6h-6zM336.5 693.5h6v6h-6zM330.5 698.5h6v6h-6zM332.5 698.5h6v6h-6zM334.5 699.5h6v6h-6zM336.5 698.5h6v6h-6zM338.5 698.5h6v6h-6zM340.5 698.5h6v6h-6zM341.5 699.5h6v6h-6zM343.5 698.5h6v6h-6zM345.5 698.5h6v6h-6zM214.5 724.5h6v6h-6zM254.5 760.5h6v6h-6zM300.5 767.5h6v6h-6zM281.5 775.5h6v6h-6zM328.5 781.5h6v6h-6zM347.5 769.5h6v6h-6zM235.5 789.5h6v6h-6zM386.5 716.5h6v6h-6zM398.5 715.5h6v6h-6zM409.5 727.5h6v6h-6zM389.5 719.5h6v6h-6zM391.5 719.5h6v6h-6zM393.5 719.5h6v6h-6zM395.5 719.5h6v6h-6zM397.5 719.5h6v6h-6zM399.5 719.5h6v6h-6zM400.5 719.5h6v6h-6zM402.5 719.5h6v6h-6zM404.5 719.5h6v6h-6zM406.5 719.5h6v6h-6zM408.5 719.5h6v6h-6zM438.5 714.5h6v6h-6zM450.5 714.5h6v6h-6zM452.5 730.5h6v6h-6zM453.5 732.5h6v6h-6zM440.5 719.5h6v6h-6zM442.5 719.5h6v6h-6zM444.5 719.5h6v6h-6zM446.5 719.5h6v6h-6zM448.5 719.5h6v6h-6zM450.5 719.5h6v6h-6zM452.5 719.5h6v6h-6zM454.5 719.5h6v6h-6zM456.5 719.5h6v6h-6zM458.5 719.5h6v6h-6zM460.5 719.5h6v6h-6zM490.5 718.5h6v6h-6zM503.5 716.5h6v6h-6zM493.5 718.5h6v6h-6zM495.5 718.5h6v6h-6zM497.5 719.5h6v6h-6zM499.5 718.5h6v6h-6zM501.5 717.5h6v6h-6zM503.5 718.5h6v6h-6zM505.5 718.5h6v6h-6zM507.5 719.5h6v6h-6zM509.5 718.5h6v6h-6zM511.5 717.5h6v6h-6zM513.5 718.5h6v6h-6zM388.5 744.5h6v6h-6zM400.5 745.5h6v6h-6zM440.5 744.5h6v6h-6zM493.5 743.5h6v6h-6zM505.5 743.5h6v6h-6zM513.5 749.5h6v6h-6zM489.5 765.5h6v6h-6zM462.5 788.5h6v6h-6zM465.5 811.5h6v6h-6zM469.5 811.5h6v6h-6zM477.5 810.5h6v6h-6zM575.5 710.5h6v6h-6zM580.5 710.5h6v6h-6zM586.5 710.5h6v6h-6zM591.5 710.5h6v6h-6zM577.5 722.5h6v6h-6zM579.5 721.5h6v6h-6zM582.5 722.5h6v6h-6zM584.5 720.5h6v6h-6zM587.5 722.5h6v6h-6zM589.5 721.5h6v6h-6zM627.5 711.5h6v6h-6zM632.5 711.5h6v6h-6zM637.5 711.5h6v6h-6zM625.5 721.5h6v6h-6zM629.5 722.5h6v6h-6zM631.5 723.5h6v6h-6zM634.5 722.5h6v6h-6zM636.5 721.5h6v6h-6zM639.5 723.5h6v6h-6zM624.5 733.5h6v6h-6zM574.5 758.5h6v6h-6zM641.5 760.5h6v6h-6zM672.5 760.5h6v6h-6zM572.5 769.5h6v6h-6zM560.5 770.5h6v6h-6zM562.5 771.5h6v6h-6zM556.5 775.5h6v6h-6zM559.5 776.5h6v6h-6zM561.5 773.5h6v6h-6zM564.5 777.5h6v6h-6zM567.5 775.5h6v6h-6zM570.5 775.5h6v6h-6zM565.5 779.5h6v6h-6zM567.5 783.5h6v6h-6zM555.5 785.5h6v6h-6zM552.5 780.5h6v6h-6zM622.5 768.5h6v6h-6zM610.5 769.5h6v6h-6zM620.5 771.5h6v6h-6zM606.5 773.5h6v6h-6zM609.5 774.5h6v6h-6zM612.5 772.5h6v6h-6zM614.5 775.5h6v6h-6zM617.5 774.5h6v6h-6zM615.5 778.5h6v6h-6zM617.5 777.5h6v6h-6zM603.5 777.5h6v6h-6zM605.5 785.5h6v6h-6zM615.5 783.5h6v6h-6zM660.5 767.5h6v6h-6zM670.5 769.5h6v6h-6zM658.5 773.5h6v6h-6zM661.5 774.5h6v6h-6zM664.5 772.5h6v6h-6zM667.5 773.5h6v6h-6zM669.5 772.5h6v6h-6zM653.5 778.5h6v6h-6zM655.5 781.5h6v6h-6zM662.5 776.5h6v6h-6zM665.5 785.5h6v6h-6zM679.5 711.5h6v6h-6zM684.5 711.5h6v6h-6zM689.5 710.5h6v6h-6zM675.5 722.5h6v6h-6zM677.5 722.5h6v6h-6zM679.5 723.5h6v6h-6zM681.5 721.5h6v6h-6zM683.5 722.5h6v6h-6zM685.5 722.5h6v6h-6zM687.5 723.5h6v6h-6zM818.5 697.5h6v6h-6zM773.5 722.5h6v6h-6zM728.5 748.5h6v6h-6zM756.5 773.5h6v6h-6zM746.5 790.5h6v6h-6zM739.5 757.5h6v6h-6zM729.5 764.5h6v6h-6zM731.5 764.5h6v6h-6zM733.5 764.5h6v6h-6zM735.5 764.5h6v6h-6zM737.5 764.5h6v6h-6zM740.5 764.5h6v6h-6zM742.5 764.5h6v6h-6zM744.5 764.5h6v6h-6zM746.5 764.5h6v6h-6zM780.5 754.5h6v6h-6zM777.5 760.5h6v6h-6zM791.5 761.5h6v6h-6zM774.5 763.5h6v6h-6zM776.5 763.5h6v6h-6zM778.5 763.5h6v6h-6zM780.5 763.5h6v6h-6zM781.5 763.5h6v6h-6zM783.5 763.5h6v6h-6zM785.5 763.5h6v6h-6zM787.5 763.5h6v6h-6zM789.5 763.5h6v6h-6zM821.5 754.5h6v6h-6zM833.5 754.5h6v6h-6zM830.5 762.5h6v6h-6zM819.5 764.5h6v6h-6zM821.5 764.5h6v6h-6zM823.5 764.5h6v6h-6zM825.5 764.5h6v6h-6zM827.5 764.5h6v6h-6zM830.5 764.5h6v6h-6zM832.5 764.5h6v6h-6zM834.5 764.5h6v6h-6zM836.5 764.5h6v6h-6zM857.5 713.5h6v6h-6zM902.5 745.5h6v6h-6zM892.5 783.5h6v6h-6zM938.5 775.5h6v6h-6zM985.5 774.5h6v6h-6zM948.5 792.5h6v6h-6zM875.5 752.5h6v6h-6zM876.5 752.5h6v6h-6zM878.5 752.5h6v6h-6zM879.5 752.5h6v6h-6zM880.5 752.5h6v6h-6zM882.5 752.5h6v6h-6zM883.5 752.5h6v6h-6zM884.5 752.5h6v6h-6zM886.5 752.5h6v6h-6zM887.5 752.5h6v6h-6zM888.5 752.5h6v6h-6zM890.5 752.5h6v6h-6zM891.5 752.5h6v6h-6zM920.5 752.5h6v6h-6zM921.5 752.5h6v6h-6zM923.5 752.5h6v6h-6zM924.5 752.5h6v6h-6zM925.5 752.5h6v6h-6zM927.5 752.5h6v6h-6zM928.5 752.5h6v6h-6zM929.5 752.5h6v6h-6zM930.5 752.5h6v6h-6zM932.5 752.5h6v6h-6zM933.5 752.5h6v6h-6zM934.5 752.5h6v6h-6zM936.5 752.5h6v6h-6zM937.5 752.5h6v6h-6zM966.5 752.5h6v6h-6zM967.5 752.5h6v6h-6zM969.5 752.5h6v6h-6zM970.5 752.5h6v6h-6zM971.5 752.5h6v6h-6zM972.5 752.5h6v6h-6zM974.5 752.5h6v6h-6zM975.5 752.5h6v6h-6zM976.5 752.5h6v6h-6zM978.5 752.5h6v6h-6zM979.5 752.5h6v6h-6zM980.5 752.5h6v6h-6zM981.5 752.5h6v6h-6zM983.5 752.5h6v6h-6zM984.5 752.5h6v6h-6zM1009.5 730.5h6v6h-6zM1014.5 729.5h6v6h-6zM1019.5 730.5h6v6h-6zM1015.5 734.5h6v6h-6zM1020.5 734.5h6v6h-6zM1024.5 734.5h6v6h-6zM1057.5 730.5h6v6h-6zM1060.5 731.5h6v6h-6zM1065.5 729.5h6v6h-6zM1070.5 729.5h6v6h-6zM1067.5 732.5h6v6h-6zM1055.5 742.5h6v6h-6zM1103.5 728.5h6v6h-6zM1105.5 730.5h6v6h-6zM1108.5 728.5h6v6h-6zM1113.5 728.5h6v6h-6zM1110.5 733.5h6v6h-6zM1117.5 735.5h6v6h-6zM1119.5 732.5h6v6h-6zM1007.5 756.5h6v6h-6zM1012.5 756.5h6v6h-6zM1017.5 753.5h6v6h-6zM1021.5 752.5h6v6h-6zM1058.5 756.5h6v6h-6zM1064.5 757.5h6v6h-6zM1069.5 757.5h6v6h-6zM1101.5 755.5h6v6h-6zM1107.5 756.5h6v6h-6zM1112.5 752.5h6v6h-6zM1115.5 750.5h6v6h-6zM1072.5 771.5h6v6h-6zM1053.5 780.5h6v6h-6zM1026.5 797.5h6v6h-6zM1029.5 797.5h6v6h-6zM1033.5 797.5h6v6h-6zM1037.5 797.5h6v6h-6zM1040.5 797.5h6v6h-6zM1027.5 804.5h6v6h-6zM1031.5 804.5h6v6h-6zM1034.5 804.5h6v6h-6zM1037.5 804.5h6v6h-6zM1041.5 804.5h6v6h-6zM1074.5 801.5h6v6h-6zM1076.5 799.5h6v6h-6zM1079.5 801.5h6v6h-6zM1082.5 798.5h6v6h-6zM1084.5 799.5h6v6h-6zM1087.5 797.5h6v6h-6zM1089.5 798.5h6v6h-6zM1082.5 803.5h6v6h-6zM1088.5 803.5h6v6h-6zM1120.5 797.5h6v6h-6zM1123.5 797.5h6v6h-6zM1127.5 797.5h6v6h-6zM1131.5 797.5h6v6h-6zM1134.5 796.5h6v6h-6zM1122.5 804.5h6v6h-6zM1125.5 804.5h6v6h-6zM1129.5 804.5h6v6h-6zM1133.5 804.5h6v6h-6zM1136.5 804.5h6v6h-6zM49.5 869.5h6v6h-6zM48.5 880.5h6v6h-6zM53.5 886.5h6v6h-6zM51.5 903.5h6v6h-6zM55.5 904.5h6v6h-6zM56.5 906.5h6v6h-6zM58.5 917.5h6v6h-6zM108.5 898.5h6v6h-6zM106.5 904.5h6v6h-6zM110.5 903.5h6v6h-6zM111.5 915.5h6v6h-6zM113.5 917.5h6v6h-6zM163.5 899.5h6v6h-6zM161.5 904.5h6v6h-6zM165.5 903.5h6v6h-6zM166.5 915.5h6v6h-6zM168.5 917.5h6v6h-6zM256.5 822.5h6v6h-6zM259.5 825.5h6v6h-6zM262.5 823.5h6v6h-6zM265.5 826.5h6v6h-6zM269.5 822.5h6v6h-6zM269.5 825.5h6v6h-6zM264.5 821.5h6v6h-6zM302.5 822.5h6v6h-6zM304.5 823.5h6v6h-6zM307.5 821.5h6v6h-6zM310.5 822.5h6v6h-6zM313.5 823.5h6v6h-6zM316.5 821.5h6v6h-6zM314.5 827.5h6v6h-6zM306.5 829.5h6v6h-6zM348.5 823.5h6v6h-6zM353.5 822.5h6v6h-6zM352.5 830.5h6v6h-6zM356.5 824.5h6v6h-6zM271.5 843.5h6v6h-6zM318.5 843.5h6v6h-6zM225.5 881.5h6v6h-6zM228.5 886.5h6v6h-6zM216.5 904.5h6v6h-6zM217.5 904.5h6v6h-6zM219.5 904.5h6v6h-6zM220.5 904.5h6v6h-6zM222.5 904.5h6v6h-6zM223.5 904.5h6v6h-6zM226.5 904.5h6v6h-6zM228.5 904.5h6v6h-6zM230.5 904.5h6v6h-6zM232.5 914.5h6v6h-6zM233.5 915.5h6v6h-6zM275.5 899.5h6v6h-6zM273.5 906.5h6v6h-6zM276.5 905.5h6v6h-6zM278.5 915.5h6v6h-6zM280.5 914.5h6v6h-6zM321.5 900.5h6v6h-6zM323.5 903.5h6v6h-6zM319.5 905.5h6v6h-6zM324.5 915.5h6v6h-6zM326.5 914.5h6v6h-6zM362.5 822.5h6v6h-6zM360.5 828.5h6v6h-6zM385.5 821.5h6v6h-6zM364.5 843.5h6v6h-6zM479.5 840.5h6v6h-6zM428.5 874.5h6v6h-6zM436.5 879.5h6v6h-6zM376.5 883.5h6v6h-6zM379.5 886.5h6v6h-6zM366.5 894.5h6v6h-6zM381.5 902.5h6v6h-6zM383.5 914.5h6v6h-6zM367.5 903.5h6v6h-6zM369.5 903.5h6v6h-6zM371.5 903.5h6v6h-6zM373.5 903.5h6v6h-6zM375.5 903.5h6v6h-6zM377.5 903.5h6v6h-6zM410.5 817.5h6v6h-6zM414.5 817.5h6v6h-6zM419.5 818.5h6v6h-6zM422.5 818.5h6v6h-6zM426.5 820.5h6v6h-6zM417.5 822.5h6v6h-6zM421.5 823.5h6v6h-6zM424.5 826.5h6v6h-6zM412.5 828.5h6v6h-6zM420.5 820.5h6v6h-6zM471.5 812.5h6v6h-6zM474.5 811.5h6v6h-6zM464.5 819.5h6v6h-6zM469.5 820.5h6v6h-6zM474.5 818.5h6v6h-6zM476.5 816.5h6v6h-6zM516.5 819.5h6v6h-6zM515.5 827.5h6v6h-6zM431.5 899.5h6v6h-6zM429.5 903.5h6v6h-6zM433.5 905.5h6v6h-6zM434.5 914.5h6v6h-6zM483.5 899.5h6v6h-6zM481.5 904.5h6v6h-6zM484.5 904.5h6v6h-6zM486.5 915.5h6v6h-6zM488.5 916.5h6v6h-6zM518.5 819.5h6v6h-6zM521.5 820.5h6v6h-6zM529.5 818.5h6v6h-6zM519.5 827.5h6v6h-6zM527.5 827.5h6v6h-6zM524.5 821.5h6v6h-6zM531.5 835.5h6v6h-6zM651.5 822.5h6v6h-6zM543.5 881.5h6v6h-6zM546.5 886.5h6v6h-6zM551.5 884.5h6v6h-6zM601.5 880.5h6v6h-6zM593.5 892.5h6v6h-6zM532.5 922.5h6v6h-6zM534.5 903.5h6v6h-6zM536.5 903.5h6v6h-6zM538.5 903.5h6v6h-6zM540.5 903.5h6v6h-6zM542.5 903.5h6v6h-6zM544.5 903.5h6v6h-6zM546.5 903.5h6v6h-6zM548.5 903.5h6v6h-6zM550.5 914.5h6v6h-6zM596.5 899.5h6v6h-6zM594.5 903.5h6v6h-6zM598.5 904.5h6v6h-6zM599.5 914.5h6v6h-6zM644.5 899.5h6v6h-6zM643.5 904.5h6v6h-6zM646.5 903.5h6v6h-6zM648.5 915.5h6v6h-6zM649.5 915.5h6v6h-6zM691.5 852.5h6v6h-6zM801.5 829.5h6v6h-6zM836.5 820.5h6v6h-6zM701.5 881.5h6v6h-6zM704.5 886.5h6v6h-6zM836.5 891.5h6v6h-6zM792.5 925.5h6v6h-6zM692.5 904.5h6v6h-6zM694.5 904.5h6v6h-6zM696.5 904.5h6v6h-6zM698.5 904.5h6v6h-6zM700.5 904.5h6v6h-6zM702.5 904.5h6v6h-6zM704.5 904.5h6v6h-6zM706.5 904.5h6v6h-6zM698.5 902.5h6v6h-6zM708.5 914.5h6v6h-6zM710.5 918.5h6v6h-6zM749.5 899.5h6v6h-6zM747.5 903.5h6v6h-6zM751.5 903.5h6v6h-6zM753.5 914.5h6v6h-6zM754.5 915.5h6v6h-6zM794.5 900.5h6v6h-6zM795.5 901.5h6v6h-6zM797.5 903.5h6v6h-6zM799.5 914.5h6v6h-6zM847.5 881.5h6v6h-6zM850.5 887.5h6v6h-6zM838.5 891.5h6v6h-6zM840.5 914.5h6v6h-6zM854.5 915.5h6v6h-6zM856.5 916.5h6v6h-6zM842.5 903.5h6v6h-6zM844.5 903.5h6v6h-6zM846.5 903.5h6v6h-6zM848.5 903.5h6v6h-6zM850.5 903.5h6v6h-6zM852.5 903.5h6v6h-6zM895.5 899.5h6v6h-6zM893.5 903.5h6v6h-6zM897.5 903.5h6v6h-6zM899.5 915.5h6v6h-6zM900.5 915.5h6v6h-6zM943.5 899.5h6v6h-6zM942.5 903.5h6v6h-6zM945.5 905.5h6v6h-6zM947.5 914.5h6v6h-6zM940.5 920.5h6v6h-6zM986.5 916.5h6v6h-6zM996.5 881.5h6v6h-6zM988.5 903.5h6v6h-6zM990.5 903.5h6v6h-6zM992.5 903.5h6v6h-6zM994.5 903.5h6v6h-6zM996.5 903.5h6v6h-6zM1043.5 826.5h6v6h-6zM1137.5 826.5h6v6h-6zM1005.5 861.5h6v6h-6zM1100.5 857.5h6v6h-6zM1139.5 879.5h6v6h-6zM1141.5 902.5h6v6h-6zM1000.5 886.5h6v6h-6zM1002.5 903.5h6v6h-6zM1003.5 914.5h6v6h-6zM1046.5 899.5h6v6h-6zM1048.5 903.5h6v6h-6zM1045.5 905.5h6v6h-6zM1050.5 915.5h6v6h-6zM1052.5 916.5h6v6h-6zM1095.5 899.5h6v6h-6zM1093.5 903.5h6v6h-6zM1096.5 903.5h6v6h-6zM1098.5 914.5h6v6h-6zM1091.5 925.5h6v6h-6z" stroke="#e69f00" stroke-width="1" fill="none" shape-rendering="crispEdges"/>
</svg></body></html>
